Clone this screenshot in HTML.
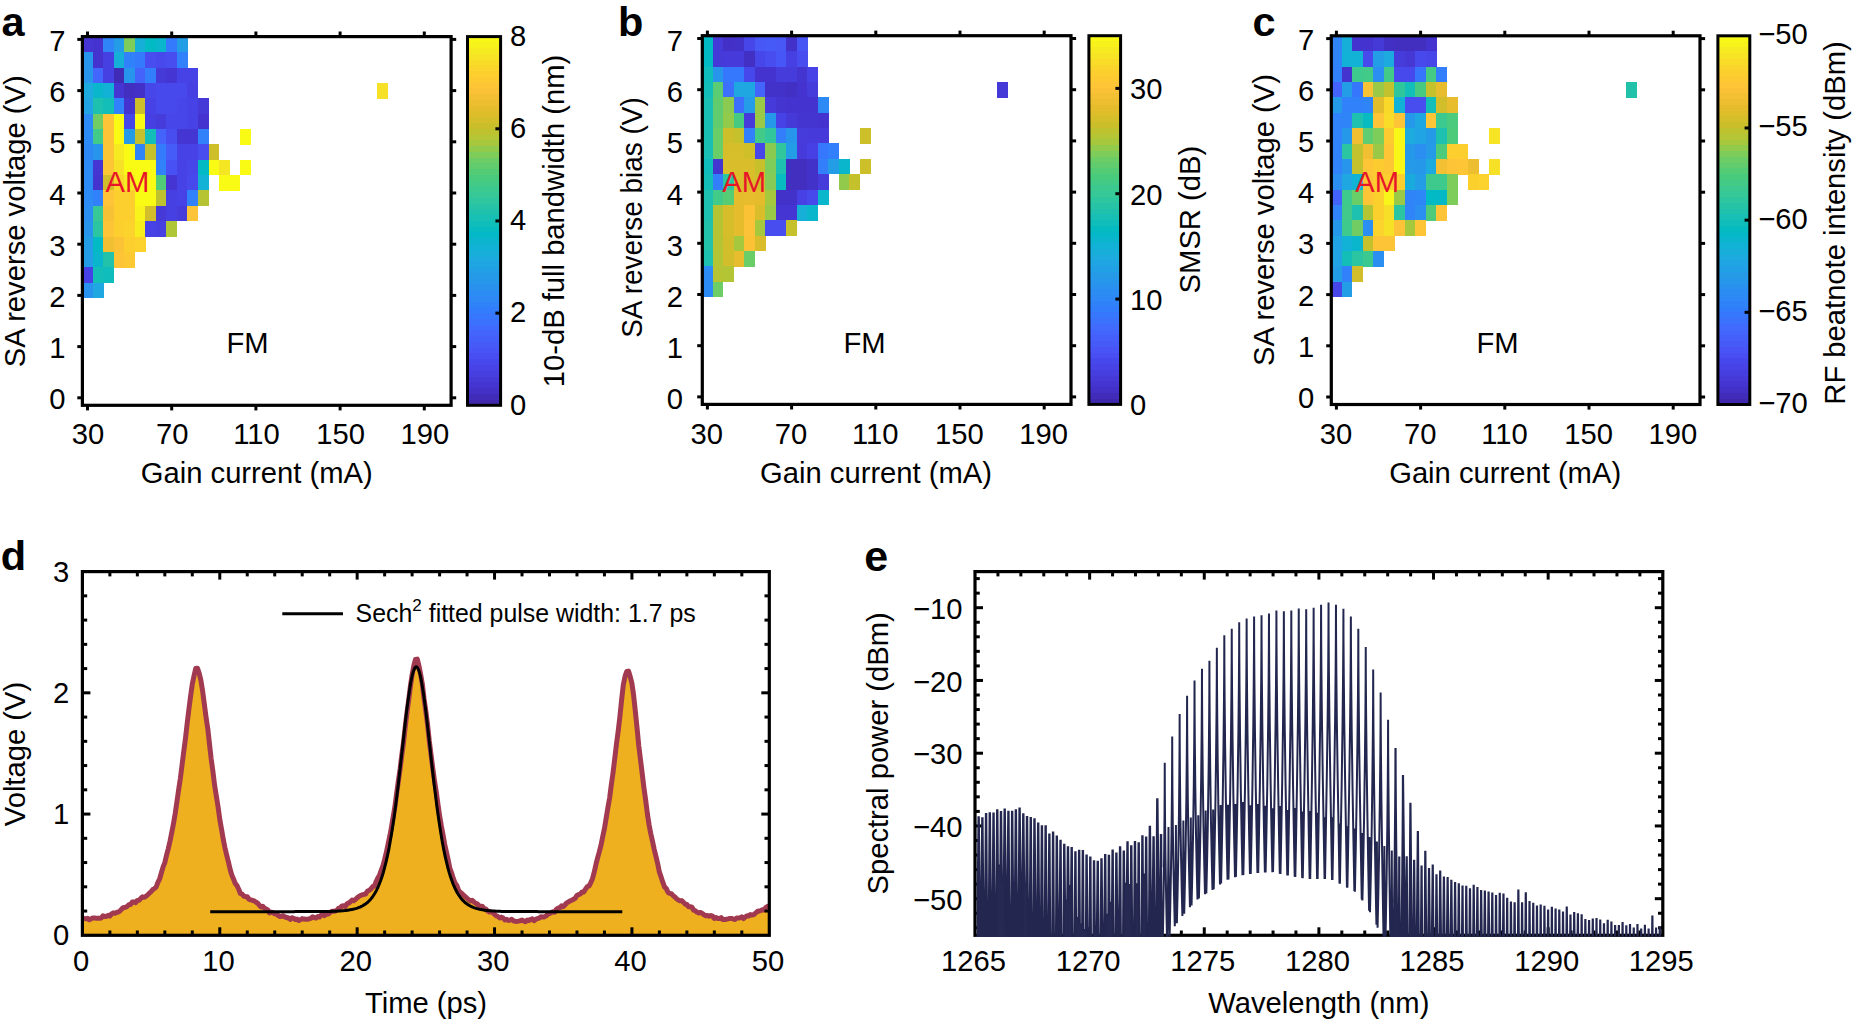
<!DOCTYPE html>
<html><head><meta charset="utf-8"><title>Figure</title>
<style>html,body{margin:0;padding:0;background:#fff}svg{display:block}text{font-family:"Liberation Sans", Arial, Helvetica, sans-serif}</style></head>
<body><svg width="1859" height="1027" viewBox="0 0 1859 1027">
<rect width="1859" height="1027" fill="#fff"/>
<g shape-rendering="crispEdges">
<rect x="82.40" y="36.84" width="10.66" height="15.66" fill="#4536d3"/>
<rect x="92.76" y="36.84" width="10.83" height="15.66" fill="#4433ce"/>
<rect x="103.29" y="36.84" width="10.83" height="15.66" fill="#2f85f8"/>
<rect x="113.81" y="36.84" width="10.83" height="15.66" fill="#239ee6"/>
<rect x="124.34" y="36.84" width="10.83" height="15.66" fill="#7ecc59"/>
<rect x="134.86" y="36.84" width="10.83" height="15.66" fill="#15afd8"/>
<rect x="145.39" y="36.84" width="10.83" height="15.66" fill="#01bac4"/>
<rect x="155.91" y="36.84" width="10.83" height="15.66" fill="#09b6cc"/>
<rect x="166.44" y="36.84" width="10.83" height="15.66" fill="#337afd"/>
<rect x="176.96" y="36.84" width="10.83" height="15.66" fill="#239ee6"/>
<rect x="82.40" y="52.20" width="10.66" height="15.66" fill="#2895ed"/>
<rect x="92.76" y="52.20" width="10.83" height="15.66" fill="#4433ce"/>
<rect x="103.29" y="52.20" width="10.83" height="15.66" fill="#463fe1"/>
<rect x="113.81" y="52.20" width="10.83" height="15.66" fill="#15afd8"/>
<rect x="124.34" y="52.20" width="10.83" height="15.66" fill="#3081fa"/>
<rect x="134.86" y="52.20" width="10.83" height="15.66" fill="#337afd"/>
<rect x="145.39" y="52.20" width="10.83" height="15.66" fill="#484df0"/>
<rect x="155.91" y="52.20" width="10.83" height="15.66" fill="#4749ed"/>
<rect x="166.44" y="52.20" width="10.83" height="15.66" fill="#484df0"/>
<rect x="176.96" y="52.20" width="10.83" height="15.66" fill="#3081fa"/>
<rect x="82.40" y="67.56" width="10.66" height="15.66" fill="#2895ed"/>
<rect x="92.76" y="67.56" width="10.83" height="15.66" fill="#4367fd"/>
<rect x="103.29" y="67.56" width="10.83" height="15.66" fill="#463fe1"/>
<rect x="113.81" y="67.56" width="10.83" height="15.66" fill="#402bb7"/>
<rect x="124.34" y="67.56" width="10.83" height="15.66" fill="#2895ed"/>
<rect x="134.86" y="67.56" width="10.83" height="15.66" fill="#4463fb"/>
<rect x="145.39" y="67.56" width="10.83" height="15.66" fill="#327efb"/>
<rect x="155.91" y="67.56" width="10.83" height="15.66" fill="#4539d8"/>
<rect x="166.44" y="67.56" width="10.83" height="15.66" fill="#4536d3"/>
<rect x="176.96" y="67.56" width="10.83" height="15.66" fill="#4742e6"/>
<rect x="187.49" y="67.56" width="10.83" height="15.66" fill="#4742e6"/>
<rect x="82.40" y="82.92" width="10.66" height="15.66" fill="#1caadf"/>
<rect x="92.76" y="82.92" width="10.83" height="15.66" fill="#09b6cc"/>
<rect x="103.29" y="82.92" width="10.83" height="15.66" fill="#11b2d5"/>
<rect x="113.81" y="82.92" width="10.83" height="15.66" fill="#4536d3"/>
<rect x="124.34" y="82.92" width="10.83" height="15.66" fill="#422ebf"/>
<rect x="134.86" y="82.92" width="10.83" height="15.66" fill="#4330c6"/>
<rect x="145.39" y="82.92" width="10.83" height="15.66" fill="#4746e9"/>
<rect x="155.91" y="82.92" width="10.83" height="15.66" fill="#4749ed"/>
<rect x="166.44" y="82.92" width="10.83" height="15.66" fill="#4749ed"/>
<rect x="176.96" y="82.92" width="10.83" height="15.66" fill="#4749ed"/>
<rect x="187.49" y="82.92" width="10.83" height="15.66" fill="#463fe1"/>
<rect x="82.40" y="98.28" width="10.66" height="15.66" fill="#20a4e3"/>
<rect x="92.76" y="98.28" width="10.83" height="15.66" fill="#1ec1af"/>
<rect x="103.29" y="98.28" width="10.83" height="15.66" fill="#14beb8"/>
<rect x="113.81" y="98.28" width="10.83" height="15.66" fill="#3081fa"/>
<rect x="124.34" y="98.28" width="10.83" height="15.66" fill="#4433ce"/>
<rect x="134.86" y="98.28" width="10.83" height="15.66" fill="#ccbf29"/>
<rect x="145.39" y="98.28" width="10.83" height="15.66" fill="#4742e6"/>
<rect x="155.91" y="98.28" width="10.83" height="15.66" fill="#4749ed"/>
<rect x="166.44" y="98.28" width="10.83" height="15.66" fill="#4749ed"/>
<rect x="176.96" y="98.28" width="10.83" height="15.66" fill="#4746e9"/>
<rect x="187.49" y="98.28" width="10.83" height="15.66" fill="#4742e6"/>
<rect x="198.01" y="98.28" width="10.83" height="15.66" fill="#4539d8"/>
<rect x="82.40" y="113.64" width="10.66" height="15.66" fill="#2c8bf4"/>
<rect x="92.76" y="113.64" width="10.83" height="15.66" fill="#71cd63"/>
<rect x="103.29" y="113.64" width="10.83" height="15.66" fill="#fec437"/>
<rect x="113.81" y="113.64" width="10.83" height="15.66" fill="#f9fb15"/>
<rect x="124.34" y="113.64" width="10.83" height="15.66" fill="#4746e9"/>
<rect x="134.86" y="113.64" width="10.83" height="15.66" fill="#f9fb15"/>
<rect x="145.39" y="113.64" width="10.83" height="15.66" fill="#463fe1"/>
<rect x="155.91" y="113.64" width="10.83" height="15.66" fill="#463cdc"/>
<rect x="166.44" y="113.64" width="10.83" height="15.66" fill="#4746e9"/>
<rect x="176.96" y="113.64" width="10.83" height="15.66" fill="#4746e9"/>
<rect x="187.49" y="113.64" width="10.83" height="15.66" fill="#4742e6"/>
<rect x="198.01" y="113.64" width="10.83" height="15.66" fill="#4433ce"/>
<rect x="82.40" y="129.00" width="10.66" height="15.66" fill="#2c8bf4"/>
<rect x="92.76" y="129.00" width="10.83" height="15.66" fill="#42ca88"/>
<rect x="103.29" y="129.00" width="10.83" height="15.66" fill="#fec437"/>
<rect x="113.81" y="129.00" width="10.83" height="15.66" fill="#f9fb15"/>
<rect x="124.34" y="129.00" width="10.83" height="15.66" fill="#259be8"/>
<rect x="134.86" y="129.00" width="10.83" height="15.66" fill="#c5c12c"/>
<rect x="145.39" y="129.00" width="10.83" height="15.66" fill="#14beb8"/>
<rect x="155.91" y="129.00" width="10.83" height="15.66" fill="#4463fb"/>
<rect x="166.44" y="129.00" width="10.83" height="15.66" fill="#484df0"/>
<rect x="176.96" y="129.00" width="10.83" height="15.66" fill="#4536d3"/>
<rect x="187.49" y="129.00" width="10.83" height="15.66" fill="#4536d3"/>
<rect x="198.01" y="129.00" width="10.83" height="15.66" fill="#3081fa"/>
<rect x="240.11" y="129.00" width="10.83" height="15.66" fill="#f9fb15"/>
<rect x="82.40" y="144.36" width="10.66" height="15.66" fill="#2d88f6"/>
<rect x="92.76" y="144.36" width="10.83" height="15.66" fill="#2895ed"/>
<rect x="103.29" y="144.36" width="10.83" height="15.66" fill="#fdc635"/>
<rect x="113.81" y="144.36" width="10.83" height="15.66" fill="#f6ea21"/>
<rect x="124.34" y="144.36" width="10.83" height="15.66" fill="#f9fb15"/>
<rect x="134.86" y="144.36" width="10.83" height="15.66" fill="#2f85f8"/>
<rect x="145.39" y="144.36" width="10.83" height="15.66" fill="#c5c12c"/>
<rect x="155.91" y="144.36" width="10.83" height="15.66" fill="#337afd"/>
<rect x="166.44" y="144.36" width="10.83" height="15.66" fill="#465cf8"/>
<rect x="176.96" y="144.36" width="10.83" height="15.66" fill="#4742e6"/>
<rect x="187.49" y="144.36" width="10.83" height="15.66" fill="#4742e6"/>
<rect x="198.01" y="144.36" width="10.83" height="15.66" fill="#484df0"/>
<rect x="208.54" y="144.36" width="10.83" height="15.66" fill="#ccbf29"/>
<rect x="82.40" y="159.72" width="10.66" height="15.66" fill="#2c8bf4"/>
<rect x="92.76" y="159.72" width="10.83" height="15.66" fill="#4536d3"/>
<rect x="103.29" y="159.72" width="10.83" height="15.66" fill="#fdc635"/>
<rect x="113.81" y="159.72" width="10.83" height="15.66" fill="#f6e126"/>
<rect x="124.34" y="159.72" width="10.83" height="15.66" fill="#f9fb15"/>
<rect x="134.86" y="159.72" width="10.83" height="15.66" fill="#f9fb15"/>
<rect x="145.39" y="159.72" width="10.83" height="15.66" fill="#f9fb15"/>
<rect x="155.91" y="159.72" width="10.83" height="15.66" fill="#3081fa"/>
<rect x="166.44" y="159.72" width="10.83" height="15.66" fill="#4851f3"/>
<rect x="176.96" y="159.72" width="10.83" height="15.66" fill="#4742e6"/>
<rect x="187.49" y="159.72" width="10.83" height="15.66" fill="#4746e9"/>
<rect x="198.01" y="159.72" width="10.83" height="15.66" fill="#01bac4"/>
<rect x="208.54" y="159.72" width="10.83" height="15.66" fill="#f9fb15"/>
<rect x="219.06" y="159.72" width="10.83" height="15.66" fill="#f5e624"/>
<rect x="240.11" y="159.72" width="10.83" height="15.66" fill="#f9fb15"/>
<rect x="82.40" y="175.08" width="10.66" height="15.66" fill="#2c8bf4"/>
<rect x="92.76" y="175.08" width="10.83" height="15.66" fill="#4433ce"/>
<rect x="103.29" y="175.08" width="10.83" height="15.66" fill="#d2be2a"/>
<rect x="113.81" y="175.08" width="10.83" height="15.66" fill="#f9d82a"/>
<rect x="124.34" y="175.08" width="10.83" height="15.66" fill="#f6ea21"/>
<rect x="134.86" y="175.08" width="10.83" height="15.66" fill="#f9fb15"/>
<rect x="145.39" y="175.08" width="10.83" height="15.66" fill="#f9fb15"/>
<rect x="155.91" y="175.08" width="10.83" height="15.66" fill="#52cb78"/>
<rect x="166.44" y="175.08" width="10.83" height="15.66" fill="#4536d3"/>
<rect x="176.96" y="175.08" width="10.83" height="15.66" fill="#4742e6"/>
<rect x="187.49" y="175.08" width="10.83" height="15.66" fill="#4749ed"/>
<rect x="198.01" y="175.08" width="10.83" height="15.66" fill="#11b2d5"/>
<rect x="219.06" y="175.08" width="10.83" height="15.66" fill="#f9fb15"/>
<rect x="229.59" y="175.08" width="10.83" height="15.66" fill="#f9fb15"/>
<rect x="82.40" y="190.44" width="10.66" height="15.66" fill="#2c8bf4"/>
<rect x="92.76" y="190.44" width="10.83" height="15.66" fill="#3081fa"/>
<rect x="103.29" y="190.44" width="10.83" height="15.66" fill="#fec437"/>
<rect x="113.81" y="190.44" width="10.83" height="15.66" fill="#fcce2e"/>
<rect x="124.34" y="190.44" width="10.83" height="15.66" fill="#fcce2e"/>
<rect x="134.86" y="190.44" width="10.83" height="15.66" fill="#f9fb15"/>
<rect x="145.39" y="190.44" width="10.83" height="15.66" fill="#f9fb15"/>
<rect x="155.91" y="190.44" width="10.83" height="15.66" fill="#bec230"/>
<rect x="166.44" y="190.44" width="10.83" height="15.66" fill="#463fe1"/>
<rect x="176.96" y="190.44" width="10.83" height="15.66" fill="#4742e6"/>
<rect x="187.49" y="190.44" width="10.83" height="15.66" fill="#3081fa"/>
<rect x="198.01" y="190.44" width="10.83" height="15.66" fill="#b6c433"/>
<rect x="82.40" y="205.80" width="10.66" height="15.66" fill="#2b8ef1"/>
<rect x="92.76" y="205.80" width="10.83" height="15.66" fill="#36c897"/>
<rect x="103.29" y="205.80" width="10.83" height="15.66" fill="#f6c134"/>
<rect x="113.81" y="205.80" width="10.83" height="15.66" fill="#fcce2e"/>
<rect x="124.34" y="205.80" width="10.83" height="15.66" fill="#fcce2e"/>
<rect x="134.86" y="205.80" width="10.83" height="15.66" fill="#f7f31b"/>
<rect x="145.39" y="205.80" width="10.83" height="15.66" fill="#d2be2a"/>
<rect x="155.91" y="205.80" width="10.83" height="15.66" fill="#4539d8"/>
<rect x="166.44" y="205.80" width="10.83" height="15.66" fill="#463fe1"/>
<rect x="176.96" y="205.80" width="10.83" height="15.66" fill="#463cdc"/>
<rect x="187.49" y="205.80" width="10.83" height="15.66" fill="#fec437"/>
<rect x="82.40" y="221.16" width="10.66" height="15.66" fill="#2895ed"/>
<rect x="92.76" y="221.16" width="10.83" height="15.66" fill="#2cc5a1"/>
<rect x="103.29" y="221.16" width="10.83" height="15.66" fill="#fec437"/>
<rect x="113.81" y="221.16" width="10.83" height="15.66" fill="#fcce2e"/>
<rect x="124.34" y="221.16" width="10.83" height="15.66" fill="#fbd32c"/>
<rect x="134.86" y="221.16" width="10.83" height="15.66" fill="#f7ee1e"/>
<rect x="145.39" y="221.16" width="10.83" height="15.66" fill="#4742e6"/>
<rect x="155.91" y="221.16" width="10.83" height="15.66" fill="#463fe1"/>
<rect x="166.44" y="221.16" width="10.83" height="15.66" fill="#afc637"/>
<rect x="82.40" y="236.52" width="10.66" height="15.66" fill="#239ee6"/>
<rect x="92.76" y="236.52" width="10.83" height="15.66" fill="#01bac4"/>
<rect x="103.29" y="236.52" width="10.83" height="15.66" fill="#f1c032"/>
<rect x="113.81" y="236.52" width="10.83" height="15.66" fill="#fbc236"/>
<rect x="124.34" y="236.52" width="10.83" height="15.66" fill="#fcce2e"/>
<rect x="134.86" y="236.52" width="10.83" height="15.66" fill="#fbd32c"/>
<rect x="82.40" y="251.88" width="10.66" height="15.66" fill="#239ee6"/>
<rect x="92.76" y="251.88" width="10.83" height="15.66" fill="#09b6cc"/>
<rect x="103.29" y="251.88" width="10.83" height="15.66" fill="#22c2aa"/>
<rect x="113.81" y="251.88" width="10.83" height="15.66" fill="#fec437"/>
<rect x="124.34" y="251.88" width="10.83" height="15.66" fill="#fdc933"/>
<rect x="82.40" y="267.24" width="10.66" height="15.66" fill="#4742e6"/>
<rect x="92.76" y="267.24" width="10.83" height="15.66" fill="#14beb8"/>
<rect x="103.29" y="267.24" width="10.83" height="15.66" fill="#0ebdbc"/>
<rect x="82.40" y="282.60" width="10.66" height="15.66" fill="#2992ef"/>
<rect x="92.76" y="282.60" width="10.83" height="15.66" fill="#1ea7e1"/>
<rect x="376.94" y="82.92" width="10.82" height="15.66" fill="#f6e126"/>
</g>
<rect x="82.40" y="36.60" width="368.70" height="368.70" fill="none" stroke="#000" stroke-width="3.2"/>
<path d="M82.40 397.80L77.30 397.80" stroke="#000" stroke-width="3.00"/>
<path d="M451.10 397.80L456.20 397.80" stroke="#000" stroke-width="3.00"/>
<text transform="translate(65.40,409.30) scale(1.000,1)" text-anchor="end" font-size="29.2">0</text>
<path d="M82.40 346.60L77.30 346.60" stroke="#000" stroke-width="3.00"/>
<path d="M451.10 346.60L456.20 346.60" stroke="#000" stroke-width="3.00"/>
<text transform="translate(65.40,358.10) scale(1.000,1)" text-anchor="end" font-size="29.2">1</text>
<path d="M82.40 295.40L77.30 295.40" stroke="#000" stroke-width="3.00"/>
<path d="M451.10 295.40L456.20 295.40" stroke="#000" stroke-width="3.00"/>
<text transform="translate(65.40,306.90) scale(1.000,1)" text-anchor="end" font-size="29.2">2</text>
<path d="M82.40 244.20L77.30 244.20" stroke="#000" stroke-width="3.00"/>
<path d="M451.10 244.20L456.20 244.20" stroke="#000" stroke-width="3.00"/>
<text transform="translate(65.40,255.70) scale(1.000,1)" text-anchor="end" font-size="29.2">3</text>
<path d="M82.40 193.00L77.30 193.00" stroke="#000" stroke-width="3.00"/>
<path d="M451.10 193.00L456.20 193.00" stroke="#000" stroke-width="3.00"/>
<text transform="translate(65.40,204.50) scale(1.000,1)" text-anchor="end" font-size="29.2">4</text>
<path d="M82.40 141.80L77.30 141.80" stroke="#000" stroke-width="3.00"/>
<path d="M451.10 141.80L456.20 141.80" stroke="#000" stroke-width="3.00"/>
<text transform="translate(65.40,153.30) scale(1.000,1)" text-anchor="end" font-size="29.2">5</text>
<path d="M82.40 90.60L77.30 90.60" stroke="#000" stroke-width="3.00"/>
<path d="M451.10 90.60L456.20 90.60" stroke="#000" stroke-width="3.00"/>
<text transform="translate(65.40,102.10) scale(1.000,1)" text-anchor="end" font-size="29.2">6</text>
<path d="M82.40 39.40L77.30 39.40" stroke="#000" stroke-width="3.00"/>
<path d="M451.10 39.40L456.20 39.40" stroke="#000" stroke-width="3.00"/>
<text transform="translate(65.40,50.90) scale(1.000,1)" text-anchor="end" font-size="29.2">7</text>
<path d="M87.50 36.60L87.50 31.50" stroke="#000" stroke-width="3.00"/>
<path d="M87.50 405.30L87.50 410.40" stroke="#000" stroke-width="3.00"/>
<text transform="translate(88.10,443.60) scale(1.000,1)" text-anchor="middle" font-size="29.2">30</text>
<path d="M171.70 36.60L171.70 31.50" stroke="#000" stroke-width="3.00"/>
<path d="M171.70 405.30L171.70 410.40" stroke="#000" stroke-width="3.00"/>
<text transform="translate(172.30,443.60) scale(1.000,1)" text-anchor="middle" font-size="29.2">70</text>
<path d="M255.90 36.60L255.90 31.50" stroke="#000" stroke-width="3.00"/>
<path d="M255.90 405.30L255.90 410.40" stroke="#000" stroke-width="3.00"/>
<text transform="translate(256.50,443.60) scale(1.000,1)" text-anchor="middle" font-size="29.2">110</text>
<path d="M340.10 36.60L340.10 31.50" stroke="#000" stroke-width="3.00"/>
<path d="M340.10 405.30L340.10 410.40" stroke="#000" stroke-width="3.00"/>
<text transform="translate(340.70,443.60) scale(1.000,1)" text-anchor="middle" font-size="29.2">150</text>
<path d="M424.30 36.60L424.30 31.50" stroke="#000" stroke-width="3.00"/>
<path d="M424.30 405.30L424.30 410.40" stroke="#000" stroke-width="3.00"/>
<text transform="translate(424.90,443.60) scale(1.000,1)" text-anchor="middle" font-size="29.2">190</text>
<text transform="translate(256.75,482.70) scale(1.000,1)" text-anchor="middle" font-size="29.2">Gain current (mA)</text>
<text transform="translate(24.60,221.30) rotate(-90) scale(1.000,1)" text-anchor="middle" font-size="29.2">SA reverse voltage (V)</text>
<text transform="translate(1.50,36.00) scale(1.000,1)" text-anchor="start" font-size="41.5" font-weight="bold">a</text>
<text transform="translate(105.60,192.40) scale(1.000,1)" text-anchor="start" font-size="29.2" fill="#e8152a">AM</text>
<text transform="translate(226.50,353.10) scale(1.000,1)" text-anchor="start" font-size="29.2">FM</text>
<g shape-rendering="crispEdges">
<rect x="467.50" y="36.60" width="33.10" height="6.16" fill="#f8f817"/>
<rect x="467.50" y="42.36" width="33.10" height="6.16" fill="#f7f11c"/>
<rect x="467.50" y="48.12" width="33.10" height="6.16" fill="#f6eb21"/>
<rect x="467.50" y="53.88" width="33.10" height="6.16" fill="#f6e425"/>
<rect x="467.50" y="59.64" width="33.10" height="6.16" fill="#f8dc28"/>
<rect x="467.50" y="65.40" width="33.10" height="6.16" fill="#fad52b"/>
<rect x="467.50" y="71.17" width="33.10" height="6.16" fill="#fcce2e"/>
<rect x="467.50" y="76.93" width="33.10" height="6.16" fill="#fdca32"/>
<rect x="467.50" y="82.69" width="33.10" height="6.16" fill="#fec636"/>
<rect x="467.50" y="88.45" width="33.10" height="6.16" fill="#fbc237"/>
<rect x="467.50" y="94.21" width="33.10" height="6.16" fill="#f4c033"/>
<rect x="467.50" y="99.97" width="33.10" height="6.16" fill="#edbe30"/>
<rect x="467.50" y="105.73" width="33.10" height="6.16" fill="#e5bd2c"/>
<rect x="467.50" y="111.49" width="33.10" height="6.16" fill="#ddbd2a"/>
<rect x="467.50" y="117.25" width="33.10" height="6.16" fill="#d4be2a"/>
<rect x="467.50" y="123.01" width="33.10" height="6.16" fill="#cabf2a"/>
<rect x="467.50" y="128.78" width="33.10" height="6.16" fill="#bfc22f"/>
<rect x="467.50" y="134.54" width="33.10" height="6.16" fill="#b4c535"/>
<rect x="467.50" y="140.30" width="33.10" height="6.16" fill="#a7c73c"/>
<rect x="467.50" y="146.06" width="33.10" height="6.16" fill="#92ca4b"/>
<rect x="467.50" y="151.82" width="33.10" height="6.16" fill="#7ecc5a"/>
<rect x="467.50" y="157.58" width="33.10" height="6.16" fill="#6ccd66"/>
<rect x="467.50" y="163.34" width="33.10" height="6.16" fill="#60cc6e"/>
<rect x="467.50" y="169.10" width="33.10" height="6.16" fill="#54cc76"/>
<rect x="467.50" y="174.86" width="33.10" height="6.16" fill="#49cb7e"/>
<rect x="467.50" y="180.62" width="33.10" height="6.16" fill="#43ca87"/>
<rect x="467.50" y="186.38" width="33.10" height="6.16" fill="#3cc98f"/>
<rect x="467.50" y="192.15" width="33.10" height="6.16" fill="#36c897"/>
<rect x="467.50" y="197.91" width="33.10" height="6.16" fill="#2ec69e"/>
<rect x="467.50" y="203.67" width="33.10" height="6.16" fill="#27c3a6"/>
<rect x="467.50" y="209.43" width="33.10" height="6.16" fill="#1fc1ad"/>
<rect x="467.50" y="215.19" width="33.10" height="6.16" fill="#18bfb4"/>
<rect x="467.50" y="220.95" width="33.10" height="6.16" fill="#0fbdbb"/>
<rect x="467.50" y="226.71" width="33.10" height="6.16" fill="#05bbc1"/>
<rect x="467.50" y="232.47" width="33.10" height="6.16" fill="#05b8c8"/>
<rect x="467.50" y="238.23" width="33.10" height="6.16" fill="#0bb5ce"/>
<rect x="467.50" y="243.99" width="33.10" height="6.16" fill="#11b2d5"/>
<rect x="467.50" y="249.75" width="33.10" height="6.16" fill="#17aeda"/>
<rect x="467.50" y="255.52" width="33.10" height="6.16" fill="#1caadf"/>
<rect x="467.50" y="261.28" width="33.10" height="6.16" fill="#1fa5e2"/>
<rect x="467.50" y="267.04" width="33.10" height="6.16" fill="#22a0e5"/>
<rect x="467.50" y="272.80" width="33.10" height="6.16" fill="#259be8"/>
<rect x="467.50" y="278.56" width="33.10" height="6.16" fill="#2797eb"/>
<rect x="467.50" y="284.32" width="33.10" height="6.16" fill="#2992ef"/>
<rect x="467.50" y="290.08" width="33.10" height="6.16" fill="#2b8df3"/>
<rect x="467.50" y="295.84" width="33.10" height="6.16" fill="#2e88f6"/>
<rect x="467.50" y="301.60" width="33.10" height="6.16" fill="#3082f9"/>
<rect x="467.50" y="307.36" width="33.10" height="6.16" fill="#327dfc"/>
<rect x="467.50" y="313.12" width="33.10" height="6.16" fill="#3677fd"/>
<rect x="467.50" y="318.89" width="33.10" height="6.16" fill="#3a71fd"/>
<rect x="467.50" y="324.65" width="33.10" height="6.16" fill="#406bfd"/>
<rect x="467.50" y="330.41" width="33.10" height="6.16" fill="#4365fc"/>
<rect x="467.50" y="336.17" width="33.10" height="6.16" fill="#4560fa"/>
<rect x="467.50" y="341.93" width="33.10" height="6.16" fill="#465af7"/>
<rect x="467.50" y="347.69" width="33.10" height="6.16" fill="#4854f5"/>
<rect x="467.50" y="353.45" width="33.10" height="6.16" fill="#484ef1"/>
<rect x="467.50" y="359.21" width="33.10" height="6.16" fill="#4748ec"/>
<rect x="467.50" y="364.97" width="33.10" height="6.16" fill="#4743e7"/>
<rect x="467.50" y="370.73" width="33.10" height="6.16" fill="#463edf"/>
<rect x="467.50" y="376.50" width="33.10" height="6.16" fill="#4539d8"/>
<rect x="467.50" y="382.26" width="33.10" height="6.16" fill="#4434d0"/>
<rect x="467.50" y="388.02" width="33.10" height="6.16" fill="#4330c6"/>
<rect x="467.50" y="393.78" width="33.10" height="6.16" fill="#412cba"/>
<rect x="467.50" y="399.54" width="33.10" height="6.16" fill="#3f28ae"/>
</g>
<rect x="467.50" y="36.60" width="33.10" height="368.70" fill="none" stroke="#000" stroke-width="3.0"/>
<text transform="translate(510.00,414.50) scale(1.000,1)" text-anchor="start" font-size="29.2">0</text>
<path d="M500.60 313.12L495.40 313.12" stroke="#000" stroke-width="3.00"/>
<text transform="translate(510.00,322.32) scale(1.000,1)" text-anchor="start" font-size="29.2">2</text>
<path d="M500.60 220.95L495.40 220.95" stroke="#000" stroke-width="3.00"/>
<text transform="translate(510.00,230.15) scale(1.000,1)" text-anchor="start" font-size="29.2">4</text>
<path d="M500.60 128.78L495.40 128.78" stroke="#000" stroke-width="3.00"/>
<text transform="translate(510.00,137.98) scale(1.000,1)" text-anchor="start" font-size="29.2">6</text>
<text transform="translate(510.00,45.80) scale(1.000,1)" text-anchor="start" font-size="29.2">8</text>
<text transform="translate(563.50,221.00) rotate(-90) scale(1.000,1)" text-anchor="middle" font-size="29.2">10-dB full bandwidth (nm)</text>
<g shape-rendering="crispEdges">
<rect x="702.30" y="35.94" width="10.66" height="15.66" fill="#01bac4"/>
<rect x="712.66" y="35.94" width="10.82" height="15.66" fill="#4539d8"/>
<rect x="723.19" y="35.94" width="10.82" height="15.66" fill="#4330c6"/>
<rect x="733.71" y="35.94" width="10.82" height="15.66" fill="#4332ca"/>
<rect x="744.24" y="35.94" width="10.82" height="15.66" fill="#4746e9"/>
<rect x="754.76" y="35.94" width="10.82" height="15.66" fill="#4758f7"/>
<rect x="765.29" y="35.94" width="10.82" height="15.66" fill="#465af7"/>
<rect x="775.81" y="35.94" width="10.82" height="15.66" fill="#4758f7"/>
<rect x="786.34" y="35.94" width="10.82" height="15.66" fill="#4332ca"/>
<rect x="796.86" y="35.94" width="10.82" height="15.66" fill="#4755f5"/>
<rect x="702.30" y="51.30" width="10.66" height="15.66" fill="#01bac4"/>
<rect x="712.66" y="51.30" width="10.82" height="15.66" fill="#4539d8"/>
<rect x="723.19" y="51.30" width="10.82" height="15.66" fill="#463ada"/>
<rect x="733.71" y="51.30" width="10.82" height="15.66" fill="#463ada"/>
<rect x="744.24" y="51.30" width="10.82" height="15.66" fill="#422fc3"/>
<rect x="754.76" y="51.30" width="10.82" height="15.66" fill="#4746e9"/>
<rect x="765.29" y="51.30" width="10.82" height="15.66" fill="#484df0"/>
<rect x="775.81" y="51.30" width="10.82" height="15.66" fill="#4756f6"/>
<rect x="786.34" y="51.30" width="10.82" height="15.66" fill="#463fe1"/>
<rect x="796.86" y="51.30" width="10.82" height="15.66" fill="#484df0"/>
<rect x="702.30" y="66.66" width="10.66" height="15.66" fill="#0ebdbc"/>
<rect x="712.66" y="66.66" width="10.82" height="15.66" fill="#2895ed"/>
<rect x="723.19" y="66.66" width="10.82" height="15.66" fill="#3578fd"/>
<rect x="733.71" y="66.66" width="10.82" height="15.66" fill="#3578fd"/>
<rect x="744.24" y="66.66" width="10.82" height="15.66" fill="#4748eb"/>
<rect x="754.76" y="66.66" width="10.82" height="15.66" fill="#4433ce"/>
<rect x="765.29" y="66.66" width="10.82" height="15.66" fill="#4433ce"/>
<rect x="775.81" y="66.66" width="10.82" height="15.66" fill="#463cdc"/>
<rect x="786.34" y="66.66" width="10.82" height="15.66" fill="#463cdc"/>
<rect x="796.86" y="66.66" width="10.82" height="15.66" fill="#4434d0"/>
<rect x="807.39" y="66.66" width="10.82" height="15.66" fill="#4742e6"/>
<rect x="702.30" y="82.02" width="10.66" height="15.66" fill="#14beb8"/>
<rect x="712.66" y="82.02" width="10.82" height="15.66" fill="#5acc73"/>
<rect x="723.19" y="82.02" width="10.82" height="15.66" fill="#3d6ffd"/>
<rect x="733.71" y="82.02" width="10.82" height="15.66" fill="#1ea7e1"/>
<rect x="744.24" y="82.02" width="10.82" height="15.66" fill="#1ea7e1"/>
<rect x="754.76" y="82.02" width="10.82" height="15.66" fill="#4365fc"/>
<rect x="765.29" y="82.02" width="10.82" height="15.66" fill="#4332ca"/>
<rect x="775.81" y="82.02" width="10.82" height="15.66" fill="#4332ca"/>
<rect x="786.34" y="82.02" width="10.82" height="15.66" fill="#422fc3"/>
<rect x="796.86" y="82.02" width="10.82" height="15.66" fill="#4433ce"/>
<rect x="807.39" y="82.02" width="10.82" height="15.66" fill="#463cdc"/>
<rect x="702.30" y="97.38" width="10.66" height="15.66" fill="#19bfb3"/>
<rect x="712.66" y="97.38" width="10.82" height="15.66" fill="#61cc6d"/>
<rect x="723.19" y="97.38" width="10.82" height="15.66" fill="#8bca50"/>
<rect x="733.71" y="97.38" width="10.82" height="15.66" fill="#3d6ffd"/>
<rect x="744.24" y="97.38" width="10.82" height="15.66" fill="#249ce7"/>
<rect x="754.76" y="97.38" width="10.82" height="15.66" fill="#99c946"/>
<rect x="765.29" y="97.38" width="10.82" height="15.66" fill="#463ada"/>
<rect x="775.81" y="97.38" width="10.82" height="15.66" fill="#4434d0"/>
<rect x="786.34" y="97.38" width="10.82" height="15.66" fill="#4433ce"/>
<rect x="796.86" y="97.38" width="10.82" height="15.66" fill="#4433ce"/>
<rect x="807.39" y="97.38" width="10.82" height="15.66" fill="#4433ce"/>
<rect x="817.91" y="97.38" width="10.82" height="15.66" fill="#2d8af5"/>
<rect x="702.30" y="112.74" width="10.66" height="15.66" fill="#19bfb3"/>
<rect x="712.66" y="112.74" width="10.82" height="15.66" fill="#61cc6d"/>
<rect x="723.19" y="112.74" width="10.82" height="15.66" fill="#92ca4b"/>
<rect x="733.71" y="112.74" width="10.82" height="15.66" fill="#46ca82"/>
<rect x="744.24" y="112.74" width="10.82" height="15.66" fill="#463ada"/>
<rect x="754.76" y="112.74" width="10.82" height="15.66" fill="#99c946"/>
<rect x="765.29" y="112.74" width="10.82" height="15.66" fill="#2698ea"/>
<rect x="775.81" y="112.74" width="10.82" height="15.66" fill="#4742e6"/>
<rect x="786.34" y="112.74" width="10.82" height="15.66" fill="#4539d8"/>
<rect x="796.86" y="112.74" width="10.82" height="15.66" fill="#4434d0"/>
<rect x="807.39" y="112.74" width="10.82" height="15.66" fill="#4434d0"/>
<rect x="817.91" y="112.74" width="10.82" height="15.66" fill="#4433ce"/>
<rect x="702.30" y="128.10" width="10.66" height="15.66" fill="#19bfb3"/>
<rect x="712.66" y="128.10" width="10.82" height="15.66" fill="#69cd68"/>
<rect x="723.19" y="128.10" width="10.82" height="15.66" fill="#ccbf29"/>
<rect x="733.71" y="128.10" width="10.82" height="15.66" fill="#c5c12c"/>
<rect x="744.24" y="128.10" width="10.82" height="15.66" fill="#317ffa"/>
<rect x="754.76" y="128.10" width="10.82" height="15.66" fill="#42ca88"/>
<rect x="765.29" y="128.10" width="10.82" height="15.66" fill="#31c69c"/>
<rect x="775.81" y="128.10" width="10.82" height="15.66" fill="#327efb"/>
<rect x="786.34" y="128.10" width="10.82" height="15.66" fill="#2895ed"/>
<rect x="796.86" y="128.10" width="10.82" height="15.66" fill="#463cdc"/>
<rect x="807.39" y="128.10" width="10.82" height="15.66" fill="#463ada"/>
<rect x="817.91" y="128.10" width="10.82" height="15.66" fill="#463ada"/>
<rect x="860.01" y="128.10" width="10.82" height="15.66" fill="#ccbf29"/>
<rect x="702.30" y="143.46" width="10.66" height="15.66" fill="#19bfb3"/>
<rect x="712.66" y="143.46" width="10.82" height="15.66" fill="#69cd68"/>
<rect x="723.19" y="143.46" width="10.82" height="15.66" fill="#d5be2a"/>
<rect x="733.71" y="143.46" width="10.82" height="15.66" fill="#d5be2a"/>
<rect x="744.24" y="143.46" width="10.82" height="15.66" fill="#cfbf29"/>
<rect x="754.76" y="143.46" width="10.82" height="15.66" fill="#4746e9"/>
<rect x="765.29" y="143.46" width="10.82" height="15.66" fill="#8bca50"/>
<rect x="775.81" y="143.46" width="10.82" height="15.66" fill="#31c69c"/>
<rect x="786.34" y="143.46" width="10.82" height="15.66" fill="#239ee6"/>
<rect x="796.86" y="143.46" width="10.82" height="15.66" fill="#463ada"/>
<rect x="807.39" y="143.46" width="10.82" height="15.66" fill="#4740e4"/>
<rect x="817.91" y="143.46" width="10.82" height="15.66" fill="#3578fd"/>
<rect x="828.44" y="143.46" width="10.82" height="15.66" fill="#317ffa"/>
<rect x="702.30" y="158.82" width="10.66" height="15.66" fill="#0ebdbc"/>
<rect x="712.66" y="158.82" width="10.82" height="15.66" fill="#4434d0"/>
<rect x="723.19" y="158.82" width="10.82" height="15.66" fill="#dabd2a"/>
<rect x="733.71" y="158.82" width="10.82" height="15.66" fill="#dabd2a"/>
<rect x="744.24" y="158.82" width="10.82" height="15.66" fill="#dabd2a"/>
<rect x="754.76" y="158.82" width="10.82" height="15.66" fill="#c8c02b"/>
<rect x="765.29" y="158.82" width="10.82" height="15.66" fill="#7ecc59"/>
<rect x="775.81" y="158.82" width="10.82" height="15.66" fill="#1ec1af"/>
<rect x="786.34" y="158.82" width="10.82" height="15.66" fill="#422ebf"/>
<rect x="796.86" y="158.82" width="10.82" height="15.66" fill="#422ebf"/>
<rect x="807.39" y="158.82" width="10.82" height="15.66" fill="#4332ca"/>
<rect x="817.91" y="158.82" width="10.82" height="15.66" fill="#327efb"/>
<rect x="828.44" y="158.82" width="10.82" height="15.66" fill="#239ee6"/>
<rect x="838.96" y="158.82" width="10.82" height="15.66" fill="#09b6cc"/>
<rect x="860.01" y="158.82" width="10.82" height="15.66" fill="#ccbf29"/>
<rect x="702.30" y="174.18" width="10.66" height="15.66" fill="#14beb8"/>
<rect x="712.66" y="174.18" width="10.82" height="15.66" fill="#327efb"/>
<rect x="723.19" y="174.18" width="10.82" height="15.66" fill="#2cc5a1"/>
<rect x="733.71" y="174.18" width="10.82" height="15.66" fill="#dabd2a"/>
<rect x="744.24" y="174.18" width="10.82" height="15.66" fill="#dabd2a"/>
<rect x="754.76" y="174.18" width="10.82" height="15.66" fill="#cfbf29"/>
<rect x="765.29" y="174.18" width="10.82" height="15.66" fill="#85cb55"/>
<rect x="775.81" y="174.18" width="10.82" height="15.66" fill="#07bbc0"/>
<rect x="786.34" y="174.18" width="10.82" height="15.66" fill="#422ebf"/>
<rect x="796.86" y="174.18" width="10.82" height="15.66" fill="#422ebf"/>
<rect x="807.39" y="174.18" width="10.82" height="15.66" fill="#4332ca"/>
<rect x="817.91" y="174.18" width="10.82" height="15.66" fill="#463cdc"/>
<rect x="838.96" y="174.18" width="10.82" height="15.66" fill="#92ca4b"/>
<rect x="849.49" y="174.18" width="10.82" height="15.66" fill="#c5c12c"/>
<rect x="702.30" y="189.54" width="10.66" height="15.66" fill="#1ec1af"/>
<rect x="712.66" y="189.54" width="10.82" height="15.66" fill="#42ca88"/>
<rect x="723.19" y="189.54" width="10.82" height="15.66" fill="#56cc75"/>
<rect x="733.71" y="189.54" width="10.82" height="15.66" fill="#e5bd2c"/>
<rect x="744.24" y="189.54" width="10.82" height="15.66" fill="#e8bd2d"/>
<rect x="754.76" y="189.54" width="10.82" height="15.66" fill="#e5bd2c"/>
<rect x="765.29" y="189.54" width="10.82" height="15.66" fill="#a6c83d"/>
<rect x="775.81" y="189.54" width="10.82" height="15.66" fill="#4332ca"/>
<rect x="786.34" y="189.54" width="10.82" height="15.66" fill="#4332ca"/>
<rect x="796.86" y="189.54" width="10.82" height="15.66" fill="#4740e4"/>
<rect x="807.39" y="189.54" width="10.82" height="15.66" fill="#4749ed"/>
<rect x="817.91" y="189.54" width="10.82" height="15.66" fill="#09b6cc"/>
<rect x="702.30" y="204.90" width="10.66" height="15.66" fill="#1ec1af"/>
<rect x="712.66" y="204.90" width="10.82" height="15.66" fill="#b6c433"/>
<rect x="723.19" y="204.90" width="10.82" height="15.66" fill="#d5be2a"/>
<rect x="733.71" y="204.90" width="10.82" height="15.66" fill="#e5bd2c"/>
<rect x="744.24" y="204.90" width="10.82" height="15.66" fill="#fbc236"/>
<rect x="754.76" y="204.90" width="10.82" height="15.66" fill="#dabd2a"/>
<rect x="765.29" y="204.90" width="10.82" height="15.66" fill="#99c946"/>
<rect x="775.81" y="204.90" width="10.82" height="15.66" fill="#4536d3"/>
<rect x="786.34" y="204.90" width="10.82" height="15.66" fill="#4536d3"/>
<rect x="796.86" y="204.90" width="10.82" height="15.66" fill="#15afd8"/>
<rect x="807.39" y="204.90" width="10.82" height="15.66" fill="#09b6cc"/>
<rect x="702.30" y="220.26" width="10.66" height="15.66" fill="#22c2aa"/>
<rect x="712.66" y="220.26" width="10.82" height="15.66" fill="#b6c433"/>
<rect x="723.19" y="220.26" width="10.82" height="15.66" fill="#d5be2a"/>
<rect x="733.71" y="220.26" width="10.82" height="15.66" fill="#e5bd2c"/>
<rect x="744.24" y="220.26" width="10.82" height="15.66" fill="#fdc338"/>
<rect x="754.76" y="220.26" width="10.82" height="15.66" fill="#a6c83d"/>
<rect x="765.29" y="220.26" width="10.82" height="15.66" fill="#484df0"/>
<rect x="775.81" y="220.26" width="10.82" height="15.66" fill="#484df0"/>
<rect x="786.34" y="220.26" width="10.82" height="15.66" fill="#c5c12c"/>
<rect x="702.30" y="235.62" width="10.66" height="15.66" fill="#22c2aa"/>
<rect x="712.66" y="235.62" width="10.82" height="15.66" fill="#b6c433"/>
<rect x="723.19" y="235.62" width="10.82" height="15.66" fill="#d2be2a"/>
<rect x="733.71" y="235.62" width="10.82" height="15.66" fill="#a6c83d"/>
<rect x="744.24" y="235.62" width="10.82" height="15.66" fill="#fbc236"/>
<rect x="754.76" y="235.62" width="10.82" height="15.66" fill="#dabd2a"/>
<rect x="702.30" y="250.98" width="10.66" height="15.66" fill="#1ec1af"/>
<rect x="712.66" y="250.98" width="10.82" height="15.66" fill="#b3c535"/>
<rect x="723.19" y="250.98" width="10.82" height="15.66" fill="#d2be2a"/>
<rect x="733.71" y="250.98" width="10.82" height="15.66" fill="#e8bd2d"/>
<rect x="744.24" y="250.98" width="10.82" height="15.66" fill="#69cd68"/>
<rect x="702.30" y="266.34" width="10.66" height="15.66" fill="#2c8bf4"/>
<rect x="712.66" y="266.34" width="10.82" height="15.66" fill="#b6c433"/>
<rect x="723.19" y="266.34" width="10.82" height="15.66" fill="#b3c535"/>
<rect x="702.30" y="281.70" width="10.66" height="15.66" fill="#2c8bf4"/>
<rect x="712.66" y="281.70" width="10.82" height="15.66" fill="#6dcd66"/>
<rect x="996.84" y="82.02" width="10.82" height="15.66" fill="#4539d8"/>
</g>
<rect x="702.30" y="35.70" width="368.70" height="368.70" fill="none" stroke="#000" stroke-width="3.2"/>
<path d="M702.30 396.90L697.20 396.90" stroke="#000" stroke-width="3.00"/>
<path d="M1071.00 396.90L1076.10 396.90" stroke="#000" stroke-width="3.00"/>
<text transform="translate(683.00,409.30) scale(1.000,1)" text-anchor="end" font-size="29.2">0</text>
<path d="M702.30 345.70L697.20 345.70" stroke="#000" stroke-width="3.00"/>
<path d="M1071.00 345.70L1076.10 345.70" stroke="#000" stroke-width="3.00"/>
<text transform="translate(683.00,358.10) scale(1.000,1)" text-anchor="end" font-size="29.2">1</text>
<path d="M702.30 294.50L697.20 294.50" stroke="#000" stroke-width="3.00"/>
<path d="M1071.00 294.50L1076.10 294.50" stroke="#000" stroke-width="3.00"/>
<text transform="translate(683.00,306.90) scale(1.000,1)" text-anchor="end" font-size="29.2">2</text>
<path d="M702.30 243.30L697.20 243.30" stroke="#000" stroke-width="3.00"/>
<path d="M1071.00 243.30L1076.10 243.30" stroke="#000" stroke-width="3.00"/>
<text transform="translate(683.00,255.70) scale(1.000,1)" text-anchor="end" font-size="29.2">3</text>
<path d="M702.30 192.10L697.20 192.10" stroke="#000" stroke-width="3.00"/>
<path d="M1071.00 192.10L1076.10 192.10" stroke="#000" stroke-width="3.00"/>
<text transform="translate(683.00,204.50) scale(1.000,1)" text-anchor="end" font-size="29.2">4</text>
<path d="M702.30 140.90L697.20 140.90" stroke="#000" stroke-width="3.00"/>
<path d="M1071.00 140.90L1076.10 140.90" stroke="#000" stroke-width="3.00"/>
<text transform="translate(683.00,153.30) scale(1.000,1)" text-anchor="end" font-size="29.2">5</text>
<path d="M702.30 89.70L697.20 89.70" stroke="#000" stroke-width="3.00"/>
<path d="M1071.00 89.70L1076.10 89.70" stroke="#000" stroke-width="3.00"/>
<text transform="translate(683.00,102.10) scale(1.000,1)" text-anchor="end" font-size="29.2">6</text>
<path d="M702.30 38.50L697.20 38.50" stroke="#000" stroke-width="3.00"/>
<path d="M1071.00 38.50L1076.10 38.50" stroke="#000" stroke-width="3.00"/>
<text transform="translate(683.00,50.90) scale(1.000,1)" text-anchor="end" font-size="29.2">7</text>
<path d="M707.40 35.70L707.40 30.60" stroke="#000" stroke-width="3.00"/>
<path d="M707.40 404.40L707.40 409.50" stroke="#000" stroke-width="3.00"/>
<text transform="translate(706.80,443.60) scale(1.000,1)" text-anchor="middle" font-size="29.2">30</text>
<path d="M791.60 35.70L791.60 30.60" stroke="#000" stroke-width="3.00"/>
<path d="M791.60 404.40L791.60 409.50" stroke="#000" stroke-width="3.00"/>
<text transform="translate(791.00,443.60) scale(1.000,1)" text-anchor="middle" font-size="29.2">70</text>
<path d="M875.80 35.70L875.80 30.60" stroke="#000" stroke-width="3.00"/>
<path d="M875.80 404.40L875.80 409.50" stroke="#000" stroke-width="3.00"/>
<text transform="translate(875.20,443.60) scale(1.000,1)" text-anchor="middle" font-size="29.2">110</text>
<path d="M960.00 35.70L960.00 30.60" stroke="#000" stroke-width="3.00"/>
<path d="M960.00 404.40L960.00 409.50" stroke="#000" stroke-width="3.00"/>
<text transform="translate(959.40,443.60) scale(1.000,1)" text-anchor="middle" font-size="29.2">150</text>
<path d="M1044.20 35.70L1044.20 30.60" stroke="#000" stroke-width="3.00"/>
<path d="M1044.20 404.40L1044.20 409.50" stroke="#000" stroke-width="3.00"/>
<text transform="translate(1043.60,443.60) scale(1.000,1)" text-anchor="middle" font-size="29.2">190</text>
<text transform="translate(876.05,482.70) scale(1.000,1)" text-anchor="middle" font-size="29.2">Gain current (mA)</text>
<text transform="translate(642.10,217.50) rotate(-90) scale(0.957,1)" text-anchor="middle" font-size="29.2">SA reverse bias (V)</text>
<text transform="translate(618.00,36.00) scale(1.000,1)" text-anchor="start" font-size="41.5" font-weight="bold">b</text>
<text transform="translate(722.20,192.40) scale(1.000,1)" text-anchor="start" font-size="29.2" fill="#e8152a">AM</text>
<text transform="translate(843.50,353.10) scale(1.000,1)" text-anchor="start" font-size="29.2">FM</text>
<g shape-rendering="crispEdges">
<rect x="1088.90" y="35.70" width="31.70" height="6.16" fill="#f8f817"/>
<rect x="1088.90" y="41.46" width="31.70" height="6.16" fill="#f7f11c"/>
<rect x="1088.90" y="47.22" width="31.70" height="6.16" fill="#f6eb21"/>
<rect x="1088.90" y="52.98" width="31.70" height="6.16" fill="#f6e425"/>
<rect x="1088.90" y="58.74" width="31.70" height="6.16" fill="#f8dc28"/>
<rect x="1088.90" y="64.50" width="31.70" height="6.16" fill="#fad52b"/>
<rect x="1088.90" y="70.27" width="31.70" height="6.16" fill="#fcce2e"/>
<rect x="1088.90" y="76.03" width="31.70" height="6.16" fill="#fdca32"/>
<rect x="1088.90" y="81.79" width="31.70" height="6.16" fill="#fec636"/>
<rect x="1088.90" y="87.55" width="31.70" height="6.16" fill="#fbc237"/>
<rect x="1088.90" y="93.31" width="31.70" height="6.16" fill="#f4c033"/>
<rect x="1088.90" y="99.07" width="31.70" height="6.16" fill="#edbe30"/>
<rect x="1088.90" y="104.83" width="31.70" height="6.16" fill="#e5bd2c"/>
<rect x="1088.90" y="110.59" width="31.70" height="6.16" fill="#ddbd2a"/>
<rect x="1088.90" y="116.35" width="31.70" height="6.16" fill="#d4be2a"/>
<rect x="1088.90" y="122.11" width="31.70" height="6.16" fill="#cabf2a"/>
<rect x="1088.90" y="127.88" width="31.70" height="6.16" fill="#bfc22f"/>
<rect x="1088.90" y="133.64" width="31.70" height="6.16" fill="#b4c535"/>
<rect x="1088.90" y="139.40" width="31.70" height="6.16" fill="#a7c73c"/>
<rect x="1088.90" y="145.16" width="31.70" height="6.16" fill="#92ca4b"/>
<rect x="1088.90" y="150.92" width="31.70" height="6.16" fill="#7ecc5a"/>
<rect x="1088.90" y="156.68" width="31.70" height="6.16" fill="#6ccd66"/>
<rect x="1088.90" y="162.44" width="31.70" height="6.16" fill="#60cc6e"/>
<rect x="1088.90" y="168.20" width="31.70" height="6.16" fill="#54cc76"/>
<rect x="1088.90" y="173.96" width="31.70" height="6.16" fill="#49cb7e"/>
<rect x="1088.90" y="179.72" width="31.70" height="6.16" fill="#43ca87"/>
<rect x="1088.90" y="185.48" width="31.70" height="6.16" fill="#3cc98f"/>
<rect x="1088.90" y="191.25" width="31.70" height="6.16" fill="#36c897"/>
<rect x="1088.90" y="197.01" width="31.70" height="6.16" fill="#2ec69e"/>
<rect x="1088.90" y="202.77" width="31.70" height="6.16" fill="#27c3a6"/>
<rect x="1088.90" y="208.53" width="31.70" height="6.16" fill="#1fc1ad"/>
<rect x="1088.90" y="214.29" width="31.70" height="6.16" fill="#18bfb4"/>
<rect x="1088.90" y="220.05" width="31.70" height="6.16" fill="#0fbdbb"/>
<rect x="1088.90" y="225.81" width="31.70" height="6.16" fill="#05bbc1"/>
<rect x="1088.90" y="231.57" width="31.70" height="6.16" fill="#05b8c8"/>
<rect x="1088.90" y="237.33" width="31.70" height="6.16" fill="#0bb5ce"/>
<rect x="1088.90" y="243.09" width="31.70" height="6.16" fill="#11b2d5"/>
<rect x="1088.90" y="248.85" width="31.70" height="6.16" fill="#17aeda"/>
<rect x="1088.90" y="254.62" width="31.70" height="6.16" fill="#1caadf"/>
<rect x="1088.90" y="260.38" width="31.70" height="6.16" fill="#1fa5e2"/>
<rect x="1088.90" y="266.14" width="31.70" height="6.16" fill="#22a0e5"/>
<rect x="1088.90" y="271.90" width="31.70" height="6.16" fill="#259be8"/>
<rect x="1088.90" y="277.66" width="31.70" height="6.16" fill="#2797eb"/>
<rect x="1088.90" y="283.42" width="31.70" height="6.16" fill="#2992ef"/>
<rect x="1088.90" y="289.18" width="31.70" height="6.16" fill="#2b8df3"/>
<rect x="1088.90" y="294.94" width="31.70" height="6.16" fill="#2e88f6"/>
<rect x="1088.90" y="300.70" width="31.70" height="6.16" fill="#3082f9"/>
<rect x="1088.90" y="306.46" width="31.70" height="6.16" fill="#327dfc"/>
<rect x="1088.90" y="312.23" width="31.70" height="6.16" fill="#3677fd"/>
<rect x="1088.90" y="317.99" width="31.70" height="6.16" fill="#3a71fd"/>
<rect x="1088.90" y="323.75" width="31.70" height="6.16" fill="#406bfd"/>
<rect x="1088.90" y="329.51" width="31.70" height="6.16" fill="#4365fc"/>
<rect x="1088.90" y="335.27" width="31.70" height="6.16" fill="#4560fa"/>
<rect x="1088.90" y="341.03" width="31.70" height="6.16" fill="#465af7"/>
<rect x="1088.90" y="346.79" width="31.70" height="6.16" fill="#4854f5"/>
<rect x="1088.90" y="352.55" width="31.70" height="6.16" fill="#484ef1"/>
<rect x="1088.90" y="358.31" width="31.70" height="6.16" fill="#4748ec"/>
<rect x="1088.90" y="364.07" width="31.70" height="6.16" fill="#4743e7"/>
<rect x="1088.90" y="369.83" width="31.70" height="6.16" fill="#463edf"/>
<rect x="1088.90" y="375.60" width="31.70" height="6.16" fill="#4539d8"/>
<rect x="1088.90" y="381.36" width="31.70" height="6.16" fill="#4434d0"/>
<rect x="1088.90" y="387.12" width="31.70" height="6.16" fill="#4330c6"/>
<rect x="1088.90" y="392.88" width="31.70" height="6.16" fill="#412cba"/>
<rect x="1088.90" y="398.64" width="31.70" height="6.16" fill="#3f28ae"/>
</g>
<rect x="1088.90" y="35.70" width="31.70" height="368.70" fill="none" stroke="#000" stroke-width="3.0"/>
<text transform="translate(1130.00,415.40) scale(1.000,1)" text-anchor="start" font-size="29.2">0</text>
<path d="M1120.60 299.06L1115.40 299.06" stroke="#000" stroke-width="3.00"/>
<text transform="translate(1130.00,310.06) scale(1.000,1)" text-anchor="start" font-size="29.2">10</text>
<path d="M1120.60 193.71L1115.40 193.71" stroke="#000" stroke-width="3.00"/>
<text transform="translate(1130.00,204.71) scale(1.000,1)" text-anchor="start" font-size="29.2">20</text>
<path d="M1120.60 88.37L1115.40 88.37" stroke="#000" stroke-width="3.00"/>
<text transform="translate(1130.00,99.37) scale(1.000,1)" text-anchor="start" font-size="29.2">30</text>
<text transform="translate(1199.50,219.60) rotate(-90) scale(1.000,1)" text-anchor="middle" font-size="29.2">SMSR (dB)</text>
<g shape-rendering="crispEdges">
<rect x="1331.30" y="36.04" width="10.66" height="15.66" fill="#2f85f8"/>
<rect x="1341.66" y="36.04" width="10.83" height="15.66" fill="#15afd8"/>
<rect x="1352.19" y="36.04" width="10.83" height="15.66" fill="#4433ce"/>
<rect x="1362.71" y="36.04" width="10.83" height="15.66" fill="#4433ce"/>
<rect x="1373.24" y="36.04" width="10.83" height="15.66" fill="#4539d8"/>
<rect x="1383.76" y="36.04" width="10.83" height="15.66" fill="#422fc3"/>
<rect x="1394.29" y="36.04" width="10.83" height="15.66" fill="#422ebf"/>
<rect x="1404.81" y="36.04" width="10.83" height="15.66" fill="#422ebf"/>
<rect x="1415.34" y="36.04" width="10.83" height="15.66" fill="#422ebf"/>
<rect x="1425.86" y="36.04" width="10.83" height="15.66" fill="#4433ce"/>
<rect x="1331.30" y="51.40" width="10.66" height="15.66" fill="#2f85f8"/>
<rect x="1341.66" y="51.40" width="10.83" height="15.66" fill="#11b2d5"/>
<rect x="1352.19" y="51.40" width="10.83" height="15.66" fill="#11b2d5"/>
<rect x="1362.71" y="51.40" width="10.83" height="15.66" fill="#4749ed"/>
<rect x="1373.24" y="51.40" width="10.83" height="15.66" fill="#239ee6"/>
<rect x="1383.76" y="51.40" width="10.83" height="15.66" fill="#1caadf"/>
<rect x="1394.29" y="51.40" width="10.83" height="15.66" fill="#463cdc"/>
<rect x="1404.81" y="51.40" width="10.83" height="15.66" fill="#4538d5"/>
<rect x="1415.34" y="51.40" width="10.83" height="15.66" fill="#4749ed"/>
<rect x="1425.86" y="51.40" width="10.83" height="15.66" fill="#4746e9"/>
<rect x="1331.30" y="66.76" width="10.66" height="15.66" fill="#3081fa"/>
<rect x="1341.66" y="66.76" width="10.83" height="15.66" fill="#4433ce"/>
<rect x="1352.19" y="66.76" width="10.83" height="15.66" fill="#3ec98d"/>
<rect x="1362.71" y="66.76" width="10.83" height="15.66" fill="#42ca88"/>
<rect x="1373.24" y="66.76" width="10.83" height="15.66" fill="#2b8ef1"/>
<rect x="1383.76" y="66.76" width="10.83" height="15.66" fill="#42ca88"/>
<rect x="1394.29" y="66.76" width="10.83" height="15.66" fill="#4749ed"/>
<rect x="1404.81" y="66.76" width="10.83" height="15.66" fill="#4749ed"/>
<rect x="1415.34" y="66.76" width="10.83" height="15.66" fill="#3676fd"/>
<rect x="1425.86" y="66.76" width="10.83" height="15.66" fill="#44ca85"/>
<rect x="1436.39" y="66.76" width="10.83" height="15.66" fill="#327efb"/>
<rect x="1331.30" y="82.12" width="10.66" height="15.66" fill="#4463fb"/>
<rect x="1341.66" y="82.12" width="10.83" height="15.66" fill="#239ee6"/>
<rect x="1352.19" y="82.12" width="10.83" height="15.66" fill="#3676fd"/>
<rect x="1362.71" y="82.12" width="10.83" height="15.66" fill="#f8c235"/>
<rect x="1373.24" y="82.12" width="10.83" height="15.66" fill="#99c946"/>
<rect x="1383.76" y="82.12" width="10.83" height="15.66" fill="#c1c22e"/>
<rect x="1394.29" y="82.12" width="10.83" height="15.66" fill="#2fc69e"/>
<rect x="1404.81" y="82.12" width="10.83" height="15.66" fill="#14beb8"/>
<rect x="1415.34" y="82.12" width="10.83" height="15.66" fill="#46ca82"/>
<rect x="1425.86" y="82.12" width="10.83" height="15.66" fill="#c5c12c"/>
<rect x="1436.39" y="82.12" width="10.83" height="15.66" fill="#e8bd2d"/>
<rect x="1331.30" y="97.48" width="10.66" height="15.66" fill="#259be8"/>
<rect x="1341.66" y="97.48" width="10.83" height="15.66" fill="#3081fa"/>
<rect x="1352.19" y="97.48" width="10.83" height="15.66" fill="#3081fa"/>
<rect x="1362.71" y="97.48" width="10.83" height="15.66" fill="#2f85f8"/>
<rect x="1373.24" y="97.48" width="10.83" height="15.66" fill="#e3bc2b"/>
<rect x="1383.76" y="97.48" width="10.83" height="15.66" fill="#f9d82a"/>
<rect x="1394.29" y="97.48" width="10.83" height="15.66" fill="#11b2d5"/>
<rect x="1404.81" y="97.48" width="10.83" height="15.66" fill="#484df0"/>
<rect x="1415.34" y="97.48" width="10.83" height="15.66" fill="#484df0"/>
<rect x="1425.86" y="97.48" width="10.83" height="15.66" fill="#14beb8"/>
<rect x="1436.39" y="97.48" width="10.83" height="15.66" fill="#d2be2a"/>
<rect x="1446.91" y="97.48" width="10.83" height="15.66" fill="#e8bd2d"/>
<rect x="1331.30" y="112.84" width="10.66" height="15.66" fill="#3083f9"/>
<rect x="1341.66" y="112.84" width="10.83" height="15.66" fill="#2f85f8"/>
<rect x="1352.19" y="112.84" width="10.83" height="15.66" fill="#1ec1af"/>
<rect x="1362.71" y="112.84" width="10.83" height="15.66" fill="#07bbc0"/>
<rect x="1373.24" y="112.84" width="10.83" height="15.66" fill="#fec437"/>
<rect x="1383.76" y="112.84" width="10.83" height="15.66" fill="#f8dc28"/>
<rect x="1394.29" y="112.84" width="10.83" height="15.66" fill="#fec437"/>
<rect x="1404.81" y="112.84" width="10.83" height="15.66" fill="#2698ea"/>
<rect x="1415.34" y="112.84" width="10.83" height="15.66" fill="#1ea7e1"/>
<rect x="1425.86" y="112.84" width="10.83" height="15.66" fill="#fec536"/>
<rect x="1436.39" y="112.84" width="10.83" height="15.66" fill="#3cc98f"/>
<rect x="1446.91" y="112.84" width="10.83" height="15.66" fill="#4acb7d"/>
<rect x="1331.30" y="128.20" width="10.66" height="15.66" fill="#3083f9"/>
<rect x="1341.66" y="128.20" width="10.83" height="15.66" fill="#2698ea"/>
<rect x="1352.19" y="128.20" width="10.83" height="15.66" fill="#f1c032"/>
<rect x="1362.71" y="128.20" width="10.83" height="15.66" fill="#5ecc70"/>
<rect x="1373.24" y="128.20" width="10.83" height="15.66" fill="#7ecc59"/>
<rect x="1383.76" y="128.20" width="10.83" height="15.66" fill="#fccb30"/>
<rect x="1394.29" y="128.20" width="10.83" height="15.66" fill="#f8f718"/>
<rect x="1404.81" y="128.20" width="10.83" height="15.66" fill="#1caadf"/>
<rect x="1415.34" y="128.20" width="10.83" height="15.66" fill="#20a4e3"/>
<rect x="1425.86" y="128.20" width="10.83" height="15.66" fill="#259be8"/>
<rect x="1436.39" y="128.20" width="10.83" height="15.66" fill="#1ec1af"/>
<rect x="1446.91" y="128.20" width="10.83" height="15.66" fill="#4ecb7a"/>
<rect x="1489.01" y="128.20" width="10.83" height="15.66" fill="#f6e425"/>
<rect x="1331.30" y="143.56" width="10.66" height="15.66" fill="#3083f9"/>
<rect x="1341.66" y="143.56" width="10.83" height="15.66" fill="#2cc5a1"/>
<rect x="1352.19" y="143.56" width="10.83" height="15.66" fill="#c1c22e"/>
<rect x="1362.71" y="143.56" width="10.83" height="15.66" fill="#f1c032"/>
<rect x="1373.24" y="143.56" width="10.83" height="15.66" fill="#99c946"/>
<rect x="1383.76" y="143.56" width="10.83" height="15.66" fill="#fec536"/>
<rect x="1394.29" y="143.56" width="10.83" height="15.66" fill="#f8f718"/>
<rect x="1404.81" y="143.56" width="10.83" height="15.66" fill="#2698ea"/>
<rect x="1415.34" y="143.56" width="10.83" height="15.66" fill="#2b8ef1"/>
<rect x="1425.86" y="143.56" width="10.83" height="15.66" fill="#259be8"/>
<rect x="1436.39" y="143.56" width="10.83" height="15.66" fill="#4ecb7a"/>
<rect x="1446.91" y="143.56" width="10.83" height="15.66" fill="#fcce2e"/>
<rect x="1457.44" y="143.56" width="10.83" height="15.66" fill="#fcce2e"/>
<rect x="1331.30" y="158.92" width="10.66" height="15.66" fill="#3083f9"/>
<rect x="1341.66" y="158.92" width="10.83" height="15.66" fill="#2895ed"/>
<rect x="1352.19" y="158.92" width="10.83" height="15.66" fill="#c5c12c"/>
<rect x="1362.71" y="158.92" width="10.83" height="15.66" fill="#fec536"/>
<rect x="1373.24" y="158.92" width="10.83" height="15.66" fill="#fccb30"/>
<rect x="1383.76" y="158.92" width="10.83" height="15.66" fill="#fdc635"/>
<rect x="1394.29" y="158.92" width="10.83" height="15.66" fill="#f8f718"/>
<rect x="1404.81" y="158.92" width="10.83" height="15.66" fill="#259be8"/>
<rect x="1415.34" y="158.92" width="10.83" height="15.66" fill="#2698ea"/>
<rect x="1425.86" y="158.92" width="10.83" height="15.66" fill="#1caadf"/>
<rect x="1436.39" y="158.92" width="10.83" height="15.66" fill="#f4c033"/>
<rect x="1446.91" y="158.92" width="10.83" height="15.66" fill="#fec437"/>
<rect x="1457.44" y="158.92" width="10.83" height="15.66" fill="#fec536"/>
<rect x="1467.96" y="158.92" width="10.83" height="15.66" fill="#ecbe30"/>
<rect x="1489.01" y="158.92" width="10.83" height="15.66" fill="#f6e126"/>
<rect x="1331.30" y="174.28" width="10.66" height="15.66" fill="#2b8ef1"/>
<rect x="1341.66" y="174.28" width="10.83" height="15.66" fill="#1ea7e1"/>
<rect x="1352.19" y="174.28" width="10.83" height="15.66" fill="#11b2d5"/>
<rect x="1362.71" y="174.28" width="10.83" height="15.66" fill="#fec437"/>
<rect x="1373.24" y="174.28" width="10.83" height="15.66" fill="#fccb30"/>
<rect x="1383.76" y="174.28" width="10.83" height="15.66" fill="#fcce2e"/>
<rect x="1394.29" y="174.28" width="10.83" height="15.66" fill="#fcce2e"/>
<rect x="1404.81" y="174.28" width="10.83" height="15.66" fill="#1aabdd"/>
<rect x="1415.34" y="174.28" width="10.83" height="15.66" fill="#239ee6"/>
<rect x="1425.86" y="174.28" width="10.83" height="15.66" fill="#3ec98d"/>
<rect x="1436.39" y="174.28" width="10.83" height="15.66" fill="#3ec98d"/>
<rect x="1446.91" y="174.28" width="10.83" height="15.66" fill="#7ecc59"/>
<rect x="1467.96" y="174.28" width="10.83" height="15.66" fill="#fbd02d"/>
<rect x="1478.49" y="174.28" width="10.83" height="15.66" fill="#fbd32c"/>
<rect x="1331.30" y="189.64" width="10.66" height="15.66" fill="#4463fb"/>
<rect x="1341.66" y="189.64" width="10.83" height="15.66" fill="#3ec98d"/>
<rect x="1352.19" y="189.64" width="10.83" height="15.66" fill="#69cd68"/>
<rect x="1362.71" y="189.64" width="10.83" height="15.66" fill="#fec536"/>
<rect x="1373.24" y="189.64" width="10.83" height="15.66" fill="#fbd02d"/>
<rect x="1383.76" y="189.64" width="10.83" height="15.66" fill="#f8f51a"/>
<rect x="1394.29" y="189.64" width="10.83" height="15.66" fill="#99c946"/>
<rect x="1404.81" y="189.64" width="10.83" height="15.66" fill="#2f85f8"/>
<rect x="1415.34" y="189.64" width="10.83" height="15.66" fill="#2e87f7"/>
<rect x="1425.86" y="189.64" width="10.83" height="15.66" fill="#01bac4"/>
<rect x="1436.39" y="189.64" width="10.83" height="15.66" fill="#03b9c6"/>
<rect x="1446.91" y="189.64" width="10.83" height="15.66" fill="#7ecc59"/>
<rect x="1331.30" y="205.00" width="10.66" height="15.66" fill="#3083f9"/>
<rect x="1341.66" y="205.00" width="10.83" height="15.66" fill="#40c98a"/>
<rect x="1352.19" y="205.00" width="10.83" height="15.66" fill="#1ec1af"/>
<rect x="1362.71" y="205.00" width="10.83" height="15.66" fill="#b3c535"/>
<rect x="1373.24" y="205.00" width="10.83" height="15.66" fill="#fbd02d"/>
<rect x="1383.76" y="205.00" width="10.83" height="15.66" fill="#f7df27"/>
<rect x="1394.29" y="205.00" width="10.83" height="15.66" fill="#2cc5a1"/>
<rect x="1404.81" y="205.00" width="10.83" height="15.66" fill="#2f85f8"/>
<rect x="1415.34" y="205.00" width="10.83" height="15.66" fill="#2b8ef1"/>
<rect x="1425.86" y="205.00" width="10.83" height="15.66" fill="#4ecb7a"/>
<rect x="1436.39" y="205.00" width="10.83" height="15.66" fill="#fec437"/>
<rect x="1331.30" y="220.36" width="10.66" height="15.66" fill="#2698ea"/>
<rect x="1341.66" y="220.36" width="10.83" height="15.66" fill="#3ec98d"/>
<rect x="1352.19" y="220.36" width="10.83" height="15.66" fill="#71cd63"/>
<rect x="1362.71" y="220.36" width="10.83" height="15.66" fill="#2b8ef1"/>
<rect x="1373.24" y="220.36" width="10.83" height="15.66" fill="#fbd32c"/>
<rect x="1383.76" y="220.36" width="10.83" height="15.66" fill="#f6e126"/>
<rect x="1394.29" y="220.36" width="10.83" height="15.66" fill="#fdc338"/>
<rect x="1404.81" y="220.36" width="10.83" height="15.66" fill="#a6c83d"/>
<rect x="1415.34" y="220.36" width="10.83" height="15.66" fill="#fec536"/>
<rect x="1331.30" y="235.72" width="10.66" height="15.66" fill="#20a4e3"/>
<rect x="1341.66" y="235.72" width="10.83" height="15.66" fill="#11b2d5"/>
<rect x="1352.19" y="235.72" width="10.83" height="15.66" fill="#09b6cc"/>
<rect x="1362.71" y="235.72" width="10.83" height="15.66" fill="#c5c12c"/>
<rect x="1373.24" y="235.72" width="10.83" height="15.66" fill="#fec437"/>
<rect x="1383.76" y="235.72" width="10.83" height="15.66" fill="#fec437"/>
<rect x="1331.30" y="251.08" width="10.66" height="15.66" fill="#20a4e3"/>
<rect x="1341.66" y="251.08" width="10.83" height="15.66" fill="#14beb8"/>
<rect x="1352.19" y="251.08" width="10.83" height="15.66" fill="#2cc5a1"/>
<rect x="1362.71" y="251.08" width="10.83" height="15.66" fill="#3cc98f"/>
<rect x="1373.24" y="251.08" width="10.83" height="15.66" fill="#2b8ef1"/>
<rect x="1331.30" y="266.44" width="10.66" height="15.66" fill="#239ee6"/>
<rect x="1341.66" y="266.44" width="10.83" height="15.66" fill="#3081fa"/>
<rect x="1352.19" y="266.44" width="10.83" height="15.66" fill="#d2be2a"/>
<rect x="1331.30" y="281.80" width="10.66" height="15.66" fill="#4746e9"/>
<rect x="1341.66" y="281.80" width="10.83" height="15.66" fill="#239ee6"/>
<rect x="1625.84" y="82.12" width="10.83" height="15.66" fill="#22c2aa"/>
</g>
<rect x="1331.30" y="35.80" width="368.70" height="368.70" fill="none" stroke="#000" stroke-width="3.2"/>
<path d="M1331.30 397.00L1326.20 397.00" stroke="#000" stroke-width="3.00"/>
<path d="M1700.00 397.00L1705.10 397.00" stroke="#000" stroke-width="3.00"/>
<text transform="translate(1314.30,407.90) scale(1.000,1)" text-anchor="end" font-size="29.2">0</text>
<path d="M1331.30 345.80L1326.20 345.80" stroke="#000" stroke-width="3.00"/>
<path d="M1700.00 345.80L1705.10 345.80" stroke="#000" stroke-width="3.00"/>
<text transform="translate(1314.30,356.70) scale(1.000,1)" text-anchor="end" font-size="29.2">1</text>
<path d="M1331.30 294.60L1326.20 294.60" stroke="#000" stroke-width="3.00"/>
<path d="M1700.00 294.60L1705.10 294.60" stroke="#000" stroke-width="3.00"/>
<text transform="translate(1314.30,305.50) scale(1.000,1)" text-anchor="end" font-size="29.2">2</text>
<path d="M1331.30 243.40L1326.20 243.40" stroke="#000" stroke-width="3.00"/>
<path d="M1700.00 243.40L1705.10 243.40" stroke="#000" stroke-width="3.00"/>
<text transform="translate(1314.30,254.30) scale(1.000,1)" text-anchor="end" font-size="29.2">3</text>
<path d="M1331.30 192.20L1326.20 192.20" stroke="#000" stroke-width="3.00"/>
<path d="M1700.00 192.20L1705.10 192.20" stroke="#000" stroke-width="3.00"/>
<text transform="translate(1314.30,203.10) scale(1.000,1)" text-anchor="end" font-size="29.2">4</text>
<path d="M1331.30 141.00L1326.20 141.00" stroke="#000" stroke-width="3.00"/>
<path d="M1700.00 141.00L1705.10 141.00" stroke="#000" stroke-width="3.00"/>
<text transform="translate(1314.30,151.90) scale(1.000,1)" text-anchor="end" font-size="29.2">5</text>
<path d="M1331.30 89.80L1326.20 89.80" stroke="#000" stroke-width="3.00"/>
<path d="M1700.00 89.80L1705.10 89.80" stroke="#000" stroke-width="3.00"/>
<text transform="translate(1314.30,100.70) scale(1.000,1)" text-anchor="end" font-size="29.2">6</text>
<path d="M1331.30 38.60L1326.20 38.60" stroke="#000" stroke-width="3.00"/>
<path d="M1700.00 38.60L1705.10 38.60" stroke="#000" stroke-width="3.00"/>
<text transform="translate(1314.30,49.50) scale(1.000,1)" text-anchor="end" font-size="29.2">7</text>
<path d="M1336.40 35.80L1336.40 30.70" stroke="#000" stroke-width="3.00"/>
<path d="M1336.40 404.50L1336.40 409.60" stroke="#000" stroke-width="3.00"/>
<text transform="translate(1336.00,443.60) scale(1.000,1)" text-anchor="middle" font-size="29.2">30</text>
<path d="M1420.60 35.80L1420.60 30.70" stroke="#000" stroke-width="3.00"/>
<path d="M1420.60 404.50L1420.60 409.60" stroke="#000" stroke-width="3.00"/>
<text transform="translate(1420.20,443.60) scale(1.000,1)" text-anchor="middle" font-size="29.2">70</text>
<path d="M1504.80 35.80L1504.80 30.70" stroke="#000" stroke-width="3.00"/>
<path d="M1504.80 404.50L1504.80 409.60" stroke="#000" stroke-width="3.00"/>
<text transform="translate(1504.40,443.60) scale(1.000,1)" text-anchor="middle" font-size="29.2">110</text>
<path d="M1589.00 35.80L1589.00 30.70" stroke="#000" stroke-width="3.00"/>
<path d="M1589.00 404.50L1589.00 409.60" stroke="#000" stroke-width="3.00"/>
<text transform="translate(1588.60,443.60) scale(1.000,1)" text-anchor="middle" font-size="29.2">150</text>
<path d="M1673.20 35.80L1673.20 30.70" stroke="#000" stroke-width="3.00"/>
<path d="M1673.20 404.50L1673.20 409.60" stroke="#000" stroke-width="3.00"/>
<text transform="translate(1672.80,443.60) scale(1.000,1)" text-anchor="middle" font-size="29.2">190</text>
<text transform="translate(1505.15,482.70) scale(1.000,1)" text-anchor="middle" font-size="29.2">Gain current (mA)</text>
<text transform="translate(1273.50,220.00) rotate(-90) scale(1.000,1)" text-anchor="middle" font-size="29.2">SA reverse voltage (V)</text>
<text transform="translate(1252.50,36.00) scale(1.000,1)" text-anchor="start" font-size="41.5" font-weight="bold">c</text>
<text transform="translate(1355.30,192.40) scale(1.000,1)" text-anchor="start" font-size="29.2" fill="#e8152a">AM</text>
<text transform="translate(1476.50,353.10) scale(1.000,1)" text-anchor="start" font-size="29.2">FM</text>
<g shape-rendering="crispEdges">
<rect x="1717.90" y="35.80" width="31.90" height="6.16" fill="#f8f817"/>
<rect x="1717.90" y="41.56" width="31.90" height="6.16" fill="#f7f11c"/>
<rect x="1717.90" y="47.32" width="31.90" height="6.16" fill="#f6eb21"/>
<rect x="1717.90" y="53.08" width="31.90" height="6.16" fill="#f6e425"/>
<rect x="1717.90" y="58.84" width="31.90" height="6.16" fill="#f8dc28"/>
<rect x="1717.90" y="64.60" width="31.90" height="6.16" fill="#fad52b"/>
<rect x="1717.90" y="70.37" width="31.90" height="6.16" fill="#fcce2e"/>
<rect x="1717.90" y="76.13" width="31.90" height="6.16" fill="#fdca32"/>
<rect x="1717.90" y="81.89" width="31.90" height="6.16" fill="#fec636"/>
<rect x="1717.90" y="87.65" width="31.90" height="6.16" fill="#fbc237"/>
<rect x="1717.90" y="93.41" width="31.90" height="6.16" fill="#f4c033"/>
<rect x="1717.90" y="99.17" width="31.90" height="6.16" fill="#edbe30"/>
<rect x="1717.90" y="104.93" width="31.90" height="6.16" fill="#e5bd2c"/>
<rect x="1717.90" y="110.69" width="31.90" height="6.16" fill="#ddbd2a"/>
<rect x="1717.90" y="116.45" width="31.90" height="6.16" fill="#d4be2a"/>
<rect x="1717.90" y="122.21" width="31.90" height="6.16" fill="#cabf2a"/>
<rect x="1717.90" y="127.97" width="31.90" height="6.16" fill="#bfc22f"/>
<rect x="1717.90" y="133.74" width="31.90" height="6.16" fill="#b4c535"/>
<rect x="1717.90" y="139.50" width="31.90" height="6.16" fill="#a7c73c"/>
<rect x="1717.90" y="145.26" width="31.90" height="6.16" fill="#92ca4b"/>
<rect x="1717.90" y="151.02" width="31.90" height="6.16" fill="#7ecc5a"/>
<rect x="1717.90" y="156.78" width="31.90" height="6.16" fill="#6ccd66"/>
<rect x="1717.90" y="162.54" width="31.90" height="6.16" fill="#60cc6e"/>
<rect x="1717.90" y="168.30" width="31.90" height="6.16" fill="#54cc76"/>
<rect x="1717.90" y="174.06" width="31.90" height="6.16" fill="#49cb7e"/>
<rect x="1717.90" y="179.82" width="31.90" height="6.16" fill="#43ca87"/>
<rect x="1717.90" y="185.58" width="31.90" height="6.16" fill="#3cc98f"/>
<rect x="1717.90" y="191.35" width="31.90" height="6.16" fill="#36c897"/>
<rect x="1717.90" y="197.11" width="31.90" height="6.16" fill="#2ec69e"/>
<rect x="1717.90" y="202.87" width="31.90" height="6.16" fill="#27c3a6"/>
<rect x="1717.90" y="208.63" width="31.90" height="6.16" fill="#1fc1ad"/>
<rect x="1717.90" y="214.39" width="31.90" height="6.16" fill="#18bfb4"/>
<rect x="1717.90" y="220.15" width="31.90" height="6.16" fill="#0fbdbb"/>
<rect x="1717.90" y="225.91" width="31.90" height="6.16" fill="#05bbc1"/>
<rect x="1717.90" y="231.67" width="31.90" height="6.16" fill="#05b8c8"/>
<rect x="1717.90" y="237.43" width="31.90" height="6.16" fill="#0bb5ce"/>
<rect x="1717.90" y="243.19" width="31.90" height="6.16" fill="#11b2d5"/>
<rect x="1717.90" y="248.95" width="31.90" height="6.16" fill="#17aeda"/>
<rect x="1717.90" y="254.72" width="31.90" height="6.16" fill="#1caadf"/>
<rect x="1717.90" y="260.48" width="31.90" height="6.16" fill="#1fa5e2"/>
<rect x="1717.90" y="266.24" width="31.90" height="6.16" fill="#22a0e5"/>
<rect x="1717.90" y="272.00" width="31.90" height="6.16" fill="#259be8"/>
<rect x="1717.90" y="277.76" width="31.90" height="6.16" fill="#2797eb"/>
<rect x="1717.90" y="283.52" width="31.90" height="6.16" fill="#2992ef"/>
<rect x="1717.90" y="289.28" width="31.90" height="6.16" fill="#2b8df3"/>
<rect x="1717.90" y="295.04" width="31.90" height="6.16" fill="#2e88f6"/>
<rect x="1717.90" y="300.80" width="31.90" height="6.16" fill="#3082f9"/>
<rect x="1717.90" y="306.56" width="31.90" height="6.16" fill="#327dfc"/>
<rect x="1717.90" y="312.32" width="31.90" height="6.16" fill="#3677fd"/>
<rect x="1717.90" y="318.09" width="31.90" height="6.16" fill="#3a71fd"/>
<rect x="1717.90" y="323.85" width="31.90" height="6.16" fill="#406bfd"/>
<rect x="1717.90" y="329.61" width="31.90" height="6.16" fill="#4365fc"/>
<rect x="1717.90" y="335.37" width="31.90" height="6.16" fill="#4560fa"/>
<rect x="1717.90" y="341.13" width="31.90" height="6.16" fill="#465af7"/>
<rect x="1717.90" y="346.89" width="31.90" height="6.16" fill="#4854f5"/>
<rect x="1717.90" y="352.65" width="31.90" height="6.16" fill="#484ef1"/>
<rect x="1717.90" y="358.41" width="31.90" height="6.16" fill="#4748ec"/>
<rect x="1717.90" y="364.17" width="31.90" height="6.16" fill="#4743e7"/>
<rect x="1717.90" y="369.93" width="31.90" height="6.16" fill="#463edf"/>
<rect x="1717.90" y="375.70" width="31.90" height="6.16" fill="#4539d8"/>
<rect x="1717.90" y="381.46" width="31.90" height="6.16" fill="#4434d0"/>
<rect x="1717.90" y="387.22" width="31.90" height="6.16" fill="#4330c6"/>
<rect x="1717.90" y="392.98" width="31.90" height="6.16" fill="#412cba"/>
<rect x="1717.90" y="398.74" width="31.90" height="6.16" fill="#3f28ae"/>
</g>
<rect x="1717.90" y="35.80" width="31.90" height="368.70" fill="none" stroke="#000" stroke-width="3.0"/>
<text transform="translate(1758.20,413.00) scale(1.000,1)" text-anchor="start" font-size="29.2">−70</text>
<path d="M1749.80 312.32L1744.60 312.32" stroke="#000" stroke-width="3.00"/>
<text transform="translate(1758.20,320.82) scale(1.000,1)" text-anchor="start" font-size="29.2">−65</text>
<path d="M1749.80 220.15L1744.60 220.15" stroke="#000" stroke-width="3.00"/>
<text transform="translate(1758.20,228.65) scale(1.000,1)" text-anchor="start" font-size="29.2">−60</text>
<path d="M1749.80 127.98L1744.60 127.98" stroke="#000" stroke-width="3.00"/>
<text transform="translate(1758.20,136.48) scale(1.000,1)" text-anchor="start" font-size="29.2">−55</text>
<text transform="translate(1758.20,44.30) scale(1.000,1)" text-anchor="start" font-size="29.2">−50</text>
<text transform="translate(1845.00,223.00) rotate(-90) scale(1.000,1)" text-anchor="middle" font-size="29.2">RF beatnote intensity (dBm)</text>
<clipPath id="cd"><rect x="82.40" y="571.60" width="686.90" height="363.70"/></clipPath>
<g clip-path="url(#cd)">
<polygon points="82.4,935.3 82.4,918.3 84.1,918.6 85.8,918.8 87.6,918.3 89.3,919.7 91.0,918.9 92.7,918.0 94.4,917.9 96.1,918.2 97.9,918.3 99.6,918.3 101.3,918.0 103.0,915.8 104.7,916.4 106.4,916.4 108.2,915.3 109.9,916.1 111.6,913.8 113.3,912.8 115.0,913.3 116.7,912.3 118.5,912.0 120.2,910.7 121.9,908.8 123.6,907.4 125.3,907.4 127.0,906.5 128.8,904.8 130.5,904.5 132.2,902.1 133.9,901.9 135.6,902.6 137.4,900.4 139.1,900.2 140.8,898.4 142.5,896.8 144.2,897.3 145.9,896.3 147.7,894.9 149.4,893.1 151.1,891.6 152.8,889.5 154.5,888.6 156.2,886.9 158.0,882.2 159.7,878.8 161.4,872.8 163.1,866.9 164.8,862.8 166.5,855.4 168.3,848.6 170.0,841.3 171.7,832.7 173.4,824.1 175.1,814.2 176.8,802.7 178.6,790.0 180.3,778.8 182.0,765.5 183.7,751.9 185.4,739.1 187.2,723.3 188.9,709.3 190.6,696.1 192.3,684.1 194.0,676.0 195.7,668.5 197.5,668.2 199.2,673.4 200.9,680.3 202.6,690.9 204.3,703.9 206.0,716.8 207.8,728.8 209.5,744.1 211.2,759.0 212.9,771.4 214.6,785.2 216.3,795.8 218.1,807.1 219.8,819.5 221.5,829.0 223.2,839.1 224.9,847.6 226.6,854.8 228.4,861.8 230.1,869.2 231.8,875.0 233.5,879.0 235.2,883.4 237.0,885.6 238.7,889.2 240.4,893.5 242.1,894.1 243.8,896.1 245.5,896.7 247.3,896.8 249.0,899.2 250.7,899.9 252.4,900.3 254.1,900.9 255.8,902.0 257.6,903.1 259.3,905.2 261.0,906.9 262.7,906.2 264.4,908.1 266.1,909.0 267.9,909.9 269.6,912.9 271.3,912.3 273.0,912.7 274.7,913.8 276.4,914.0 278.2,915.6 279.9,916.4 281.6,916.2 283.3,915.8 285.0,917.0 286.8,917.5 288.5,918.0 290.2,919.4 291.9,917.7 293.6,918.3 295.3,919.6 297.1,919.1 298.8,920.5 300.5,919.6 302.2,918.6 303.9,919.1 305.6,919.3 307.4,919.3 309.1,918.8 310.8,918.3 312.5,916.8 314.2,917.5 315.9,918.0 317.7,916.6 319.4,917.1 321.1,915.2 322.8,914.4 324.5,915.6 326.2,914.3 328.0,914.0 329.7,913.0 331.4,911.5 333.1,911.2 334.8,911.2 336.6,910.5 338.3,908.5 340.0,908.0 341.7,906.2 343.4,905.8 345.1,906.5 346.9,903.8 348.6,903.1 350.3,901.9 352.0,900.1 353.7,900.8 355.4,899.5 357.2,897.8 358.9,896.4 360.6,895.5 362.3,894.7 364.0,894.5 365.7,893.9 367.5,891.0 369.2,890.4 370.9,889.0 372.6,886.7 374.3,886.1 376.0,881.8 377.8,878.1 379.5,875.3 381.2,870.3 382.9,865.9 384.6,859.7 386.4,852.2 388.1,843.9 389.8,836.1 391.5,826.9 393.2,816.6 394.9,806.7 396.7,792.9 398.4,780.6 400.1,769.0 401.8,755.0 403.5,742.3 405.2,727.3 407.0,712.3 408.7,699.9 410.4,686.4 412.1,674.8 413.8,666.0 415.5,659.5 417.3,659.1 419.0,666.1 420.7,674.8 422.4,684.5 424.1,699.0 425.9,711.6 427.6,724.9 429.3,741.1 431.0,754.3 432.7,767.7 434.4,780.0 436.2,791.4 437.9,803.8 439.6,815.5 441.3,825.7 443.0,834.5 444.7,844.3 446.5,852.2 448.2,860.0 449.9,868.4 451.6,872.9 453.3,878.5 455.0,882.8 456.8,885.4 458.5,890.2 460.2,892.3 461.9,893.6 463.6,895.3 465.3,896.7 467.1,898.3 468.8,899.8 470.5,901.0 472.2,900.2 473.9,901.8 475.7,903.3 477.4,903.9 479.1,906.6 480.8,906.1 482.5,906.5 484.2,908.6 486.0,909.2 487.7,911.1 489.4,911.9 491.1,912.0 492.8,912.6 494.5,914.4 496.3,915.9 498.0,916.5 499.7,918.0 501.4,917.1 503.1,918.0 504.8,920.0 506.6,919.3 508.3,920.5 510.0,920.1 511.7,919.2 513.4,920.8 515.1,921.2 516.9,921.4 518.6,921.1 520.3,920.7 522.0,920.1 523.7,920.9 525.5,921.7 527.2,920.1 528.9,920.5 530.6,919.5 532.3,918.8 534.0,920.7 535.8,919.3 537.5,918.6 539.2,918.1 540.9,916.7 542.6,917.0 544.3,916.9 546.1,915.9 547.8,914.2 549.5,913.7 551.2,912.6 552.9,911.8 554.6,912.3 556.4,909.3 558.1,908.2 559.8,907.7 561.5,905.9 563.2,906.6 564.9,905.0 566.7,902.9 568.4,902.0 570.1,900.9 571.8,900.2 573.5,899.3 575.3,898.1 577.0,895.3 578.7,894.6 580.4,894.0 582.1,891.9 583.8,891.9 585.6,889.0 587.3,886.6 589.0,886.0 590.7,882.8 592.4,878.9 594.1,872.7 595.9,864.7 597.6,857.9 599.3,851.9 601.0,845.2 602.7,836.8 604.4,828.8 606.2,818.0 607.9,807.7 609.6,798.1 611.3,784.9 613.0,773.0 614.7,759.0 616.5,743.8 618.2,731.1 619.9,716.8 621.6,700.1 623.3,684.9 625.1,676.2 626.8,671.4 628.5,671.1 630.2,676.6 631.9,683.4 633.6,695.2 635.4,712.1 637.1,728.6 638.8,746.0 640.5,759.8 642.2,773.6 643.9,787.6 645.7,800.4 647.4,814.0 649.1,825.0 650.8,833.8 652.5,841.3 654.2,849.3 656.0,856.6 657.7,863.8 659.4,872.2 661.1,876.9 662.8,882.2 664.5,886.9 666.3,888.6 668.0,892.3 669.7,893.4 671.4,893.7 673.1,895.6 674.9,897.0 676.6,898.8 678.3,900.0 680.0,900.9 681.7,900.6 683.4,902.2 685.2,904.2 686.9,904.5 688.6,906.8 690.3,906.8 692.0,907.2 693.7,910.2 695.5,910.8 697.2,912.3 698.9,913.0 700.6,912.5 702.3,913.4 704.0,914.8 705.8,915.7 707.5,915.5 709.2,916.2 710.9,915.6 712.6,916.2 714.3,918.5 716.1,917.6 717.8,918.4 719.5,918.5 721.2,917.6 722.9,919.6 724.7,919.6 726.4,919.2 728.1,918.9 729.8,918.4 731.5,918.4 733.2,919.0 735.0,919.6 736.7,917.9 738.4,918.0 740.1,917.7 741.8,916.9 743.5,918.6 745.3,917.0 747.0,915.8 748.7,915.9 750.4,914.6 752.1,915.0 753.8,914.6 755.6,913.0 757.3,911.5 759.0,911.0 760.7,910.6 762.4,909.7 764.1,909.9 765.9,907.3 767.6,906.3 769.3,906.6 769.3,935.3" fill="#efb01f"/>
<polyline points="82.4,918.3 84.1,918.6 85.8,918.8 87.6,918.3 89.3,919.7 91.0,918.9 92.7,918.0 94.4,917.9 96.1,918.2 97.9,918.3 99.6,918.3 101.3,918.0 103.0,915.8 104.7,916.4 106.4,916.4 108.2,915.3 109.9,916.1 111.6,913.8 113.3,912.8 115.0,913.3 116.7,912.3 118.5,912.0 120.2,910.7 121.9,908.8 123.6,907.4 125.3,907.4 127.0,906.5 128.8,904.8 130.5,904.5 132.2,902.1 133.9,901.9 135.6,902.6 137.4,900.4 139.1,900.2 140.8,898.4 142.5,896.8 144.2,897.3 145.9,896.3 147.7,894.9 149.4,893.1 151.1,891.6 152.8,889.5 154.5,888.6 156.2,886.9 158.0,882.2 159.7,878.8 161.4,872.8 163.1,866.9 164.8,862.8 166.5,855.4 168.3,848.6 170.0,841.3 171.7,832.7 173.4,824.1 175.1,814.2 176.8,802.7 178.6,790.0 180.3,778.8 182.0,765.5 183.7,751.9 185.4,739.1 187.2,723.3 188.9,709.3 190.6,696.1 192.3,684.1 194.0,676.0 195.7,668.5 197.5,668.2 199.2,673.4 200.9,680.3 202.6,690.9 204.3,703.9 206.0,716.8 207.8,728.8 209.5,744.1 211.2,759.0 212.9,771.4 214.6,785.2 216.3,795.8 218.1,807.1 219.8,819.5 221.5,829.0 223.2,839.1 224.9,847.6 226.6,854.8 228.4,861.8 230.1,869.2 231.8,875.0 233.5,879.0 235.2,883.4 237.0,885.6 238.7,889.2 240.4,893.5 242.1,894.1 243.8,896.1 245.5,896.7 247.3,896.8 249.0,899.2 250.7,899.9 252.4,900.3 254.1,900.9 255.8,902.0 257.6,903.1 259.3,905.2 261.0,906.9 262.7,906.2 264.4,908.1 266.1,909.0 267.9,909.9 269.6,912.9 271.3,912.3 273.0,912.7 274.7,913.8 276.4,914.0 278.2,915.6 279.9,916.4 281.6,916.2 283.3,915.8 285.0,917.0 286.8,917.5 288.5,918.0 290.2,919.4 291.9,917.7 293.6,918.3 295.3,919.6 297.1,919.1 298.8,920.5 300.5,919.6 302.2,918.6 303.9,919.1 305.6,919.3 307.4,919.3 309.1,918.8 310.8,918.3 312.5,916.8 314.2,917.5 315.9,918.0 317.7,916.6 319.4,917.1 321.1,915.2 322.8,914.4 324.5,915.6 326.2,914.3 328.0,914.0 329.7,913.0 331.4,911.5 333.1,911.2 334.8,911.2 336.6,910.5 338.3,908.5 340.0,908.0 341.7,906.2 343.4,905.8 345.1,906.5 346.9,903.8 348.6,903.1 350.3,901.9 352.0,900.1 353.7,900.8 355.4,899.5 357.2,897.8 358.9,896.4 360.6,895.5 362.3,894.7 364.0,894.5 365.7,893.9 367.5,891.0 369.2,890.4 370.9,889.0 372.6,886.7 374.3,886.1 376.0,881.8 377.8,878.1 379.5,875.3 381.2,870.3 382.9,865.9 384.6,859.7 386.4,852.2 388.1,843.9 389.8,836.1 391.5,826.9 393.2,816.6 394.9,806.7 396.7,792.9 398.4,780.6 400.1,769.0 401.8,755.0 403.5,742.3 405.2,727.3 407.0,712.3 408.7,699.9 410.4,686.4 412.1,674.8 413.8,666.0 415.5,659.5 417.3,659.1 419.0,666.1 420.7,674.8 422.4,684.5 424.1,699.0 425.9,711.6 427.6,724.9 429.3,741.1 431.0,754.3 432.7,767.7 434.4,780.0 436.2,791.4 437.9,803.8 439.6,815.5 441.3,825.7 443.0,834.5 444.7,844.3 446.5,852.2 448.2,860.0 449.9,868.4 451.6,872.9 453.3,878.5 455.0,882.8 456.8,885.4 458.5,890.2 460.2,892.3 461.9,893.6 463.6,895.3 465.3,896.7 467.1,898.3 468.8,899.8 470.5,901.0 472.2,900.2 473.9,901.8 475.7,903.3 477.4,903.9 479.1,906.6 480.8,906.1 482.5,906.5 484.2,908.6 486.0,909.2 487.7,911.1 489.4,911.9 491.1,912.0 492.8,912.6 494.5,914.4 496.3,915.9 498.0,916.5 499.7,918.0 501.4,917.1 503.1,918.0 504.8,920.0 506.6,919.3 508.3,920.5 510.0,920.1 511.7,919.2 513.4,920.8 515.1,921.2 516.9,921.4 518.6,921.1 520.3,920.7 522.0,920.1 523.7,920.9 525.5,921.7 527.2,920.1 528.9,920.5 530.6,919.5 532.3,918.8 534.0,920.7 535.8,919.3 537.5,918.6 539.2,918.1 540.9,916.7 542.6,917.0 544.3,916.9 546.1,915.9 547.8,914.2 549.5,913.7 551.2,912.6 552.9,911.8 554.6,912.3 556.4,909.3 558.1,908.2 559.8,907.7 561.5,905.9 563.2,906.6 564.9,905.0 566.7,902.9 568.4,902.0 570.1,900.9 571.8,900.2 573.5,899.3 575.3,898.1 577.0,895.3 578.7,894.6 580.4,894.0 582.1,891.9 583.8,891.9 585.6,889.0 587.3,886.6 589.0,886.0 590.7,882.8 592.4,878.9 594.1,872.7 595.9,864.7 597.6,857.9 599.3,851.9 601.0,845.2 602.7,836.8 604.4,828.8 606.2,818.0 607.9,807.7 609.6,798.1 611.3,784.9 613.0,773.0 614.7,759.0 616.5,743.8 618.2,731.1 619.9,716.8 621.6,700.1 623.3,684.9 625.1,676.2 626.8,671.4 628.5,671.1 630.2,676.6 631.9,683.4 633.6,695.2 635.4,712.1 637.1,728.6 638.8,746.0 640.5,759.8 642.2,773.6 643.9,787.6 645.7,800.4 647.4,814.0 649.1,825.0 650.8,833.8 652.5,841.3 654.2,849.3 656.0,856.6 657.7,863.8 659.4,872.2 661.1,876.9 662.8,882.2 664.5,886.9 666.3,888.6 668.0,892.3 669.7,893.4 671.4,893.7 673.1,895.6 674.9,897.0 676.6,898.8 678.3,900.0 680.0,900.9 681.7,900.6 683.4,902.2 685.2,904.2 686.9,904.5 688.6,906.8 690.3,906.8 692.0,907.2 693.7,910.2 695.5,910.8 697.2,912.3 698.9,913.0 700.6,912.5 702.3,913.4 704.0,914.8 705.8,915.7 707.5,915.5 709.2,916.2 710.9,915.6 712.6,916.2 714.3,918.5 716.1,917.6 717.8,918.4 719.5,918.5 721.2,917.6 722.9,919.6 724.7,919.6 726.4,919.2 728.1,918.9 729.8,918.4 731.5,918.4 733.2,919.0 735.0,919.6 736.7,917.9 738.4,918.0 740.1,917.7 741.8,916.9 743.5,918.6 745.3,917.0 747.0,915.8 748.7,915.9 750.4,914.6 752.1,915.0 753.8,914.6 755.6,913.0 757.3,911.5 759.0,911.0 760.7,910.6 762.4,909.7 764.1,909.9 765.9,907.3 767.6,906.3 769.3,906.6" fill="none" stroke="#a13a50" stroke-width="5" stroke-linejoin="round"/>
<polyline points="210.2,911.7 211.5,911.7 212.9,911.7 214.3,911.7 215.7,911.7 217.0,911.7 218.4,911.7 219.8,911.7 221.2,911.7 222.5,911.7 223.9,911.7 225.3,911.7 226.6,911.7 228.0,911.7 229.4,911.7 230.8,911.7 232.1,911.7 233.5,911.7 234.9,911.7 236.3,911.7 237.6,911.7 239.0,911.7 240.4,911.7 241.8,911.7 243.1,911.7 244.5,911.7 245.9,911.7 247.3,911.7 248.6,911.7 250.0,911.7 251.4,911.7 252.8,911.7 254.1,911.7 255.5,911.7 256.9,911.7 258.2,911.7 259.6,911.7 261.0,911.7 262.4,911.7 263.7,911.7 265.1,911.7 266.5,911.7 267.9,911.7 269.2,911.7 270.6,911.7 272.0,911.7 273.4,911.7 274.7,911.7 276.1,911.7 277.5,911.7 278.9,911.7 280.2,911.7 281.6,911.7 283.0,911.7 284.3,911.7 285.7,911.7 287.1,911.7 288.5,911.7 289.8,911.7 291.2,911.7 292.6,911.7 294.0,911.7 295.3,911.6 296.7,911.6 298.1,911.6 299.5,911.6 300.8,911.6 302.2,911.6 303.6,911.6 305.0,911.6 306.3,911.6 307.7,911.6 309.1,911.6 310.5,911.6 311.8,911.6 313.2,911.6 314.6,911.6 315.9,911.6 317.3,911.6 318.7,911.6 320.1,911.6 321.4,911.5 322.8,911.5 324.2,911.5 325.6,911.5 326.9,911.5 328.3,911.4 329.7,911.4 331.1,911.4 332.4,911.3 333.8,911.3 335.2,911.2 336.6,911.2 337.9,911.1 339.3,911.0 340.7,910.9 342.0,910.8 343.4,910.7 344.8,910.6 346.2,910.4 347.5,910.2 348.9,910.0 350.3,909.8 351.7,909.6 353.0,909.3 354.4,908.9 355.8,908.6 357.2,908.1 358.5,907.6 359.9,907.1 361.3,906.5 362.7,905.7 364.0,904.9 365.4,904.0 366.8,903.0 368.2,901.8 369.5,900.4 370.9,898.9 372.3,897.2 373.6,895.2 375.0,893.0 376.4,890.5 377.8,887.7 379.1,884.5 380.5,881.0 381.9,877.0 383.3,872.6 384.6,867.7 386.0,862.2 387.4,856.1 388.8,849.4 390.1,842.0 391.5,834.0 392.9,825.2 394.3,815.8 395.6,805.7 397.0,795.0 398.4,783.7 399.7,771.9 401.1,759.8 402.5,747.5 403.9,735.2 405.2,723.2 406.6,711.6 408.0,700.9 409.4,691.2 410.7,682.8 412.1,675.9 413.5,670.9 414.9,667.8 416.2,666.8 417.6,667.8 419.0,670.9 420.4,675.9 421.7,682.8 423.1,691.2 424.5,700.9 425.9,711.6 427.2,723.2 428.6,735.2 430.0,747.5 431.3,759.8 432.7,771.9 434.1,783.7 435.5,795.0 436.8,805.7 438.2,815.8 439.6,825.2 441.0,834.0 442.3,842.0 443.7,849.4 445.1,856.1 446.5,862.2 447.8,867.7 449.2,872.6 450.6,877.0 452.0,881.0 453.3,884.5 454.7,887.7 456.1,890.5 457.4,893.0 458.8,895.2 460.2,897.2 461.6,898.9 462.9,900.4 464.3,901.8 465.7,903.0 467.1,904.0 468.4,904.9 469.8,905.7 471.2,906.5 472.6,907.1 473.9,907.6 475.3,908.1 476.7,908.6 478.1,908.9 479.4,909.3 480.8,909.6 482.2,909.8 483.5,910.0 484.9,910.2 486.3,910.4 487.7,910.6 489.0,910.7 490.4,910.8 491.8,910.9 493.2,911.0 494.5,911.1 495.9,911.2 497.3,911.2 498.7,911.3 500.0,911.3 501.4,911.4 502.8,911.4 504.2,911.4 505.5,911.5 506.9,911.5 508.3,911.5 509.7,911.5 511.0,911.5 512.4,911.6 513.8,911.6 515.1,911.6 516.5,911.6 517.9,911.6 519.3,911.6 520.6,911.6 522.0,911.6 523.4,911.6 524.8,911.6 526.1,911.6 527.5,911.6 528.9,911.6 530.3,911.6 531.6,911.6 533.0,911.6 534.4,911.6 535.8,911.6 537.1,911.6 538.5,911.7 539.9,911.7 541.2,911.7 542.6,911.7 544.0,911.7 545.4,911.7 546.7,911.7 548.1,911.7 549.5,911.7 550.9,911.7 552.2,911.7 553.6,911.7 555.0,911.7 556.4,911.7 557.7,911.7 559.1,911.7 560.5,911.7 561.9,911.7 563.2,911.7 564.6,911.7 566.0,911.7 567.4,911.7 568.7,911.7 570.1,911.7 571.5,911.7 572.8,911.7 574.2,911.7 575.6,911.7 577.0,911.7 578.3,911.7 579.7,911.7 581.1,911.7 582.5,911.7 583.8,911.7 585.2,911.7 586.6,911.7 588.0,911.7 589.3,911.7 590.7,911.7 592.1,911.7 593.5,911.7 594.8,911.7 596.2,911.7 597.6,911.7 598.9,911.7 600.3,911.7 601.7,911.7 603.1,911.7 604.4,911.7 605.8,911.7 607.2,911.7 608.6,911.7 609.9,911.7 611.3,911.7 612.7,911.7 614.1,911.7 615.4,911.7 616.8,911.7 618.2,911.7 619.6,911.7 620.9,911.7 622.3,911.7" fill="none" stroke="#000" stroke-width="3.0" stroke-linejoin="round"/>
</g>
<path d="M219.78 935.30L219.78 927.30" stroke="#000" stroke-width="3.00"/>
<path d="M219.78 571.60L219.78 579.60" stroke="#000" stroke-width="3.00"/>
<path d="M357.16 935.30L357.16 927.30" stroke="#000" stroke-width="3.00"/>
<path d="M357.16 571.60L357.16 579.60" stroke="#000" stroke-width="3.00"/>
<path d="M494.54 935.30L494.54 927.30" stroke="#000" stroke-width="3.00"/>
<path d="M494.54 571.60L494.54 579.60" stroke="#000" stroke-width="3.00"/>
<path d="M631.92 935.30L631.92 927.30" stroke="#000" stroke-width="3.00"/>
<path d="M631.92 571.60L631.92 579.60" stroke="#000" stroke-width="3.00"/>
<path d="M109.88 935.30L109.88 930.50" stroke="#000" stroke-width="3.00"/>
<path d="M109.88 571.60L109.88 576.40" stroke="#000" stroke-width="3.00"/>
<path d="M137.35 935.30L137.35 930.50" stroke="#000" stroke-width="3.00"/>
<path d="M137.35 571.60L137.35 576.40" stroke="#000" stroke-width="3.00"/>
<path d="M164.83 935.30L164.83 930.50" stroke="#000" stroke-width="3.00"/>
<path d="M164.83 571.60L164.83 576.40" stroke="#000" stroke-width="3.00"/>
<path d="M192.30 935.30L192.30 930.50" stroke="#000" stroke-width="3.00"/>
<path d="M192.30 571.60L192.30 576.40" stroke="#000" stroke-width="3.00"/>
<path d="M247.26 935.30L247.26 930.50" stroke="#000" stroke-width="3.00"/>
<path d="M247.26 571.60L247.26 576.40" stroke="#000" stroke-width="3.00"/>
<path d="M274.73 935.30L274.73 930.50" stroke="#000" stroke-width="3.00"/>
<path d="M274.73 571.60L274.73 576.40" stroke="#000" stroke-width="3.00"/>
<path d="M302.21 935.30L302.21 930.50" stroke="#000" stroke-width="3.00"/>
<path d="M302.21 571.60L302.21 576.40" stroke="#000" stroke-width="3.00"/>
<path d="M329.68 935.30L329.68 930.50" stroke="#000" stroke-width="3.00"/>
<path d="M329.68 571.60L329.68 576.40" stroke="#000" stroke-width="3.00"/>
<path d="M384.64 935.30L384.64 930.50" stroke="#000" stroke-width="3.00"/>
<path d="M384.64 571.60L384.64 576.40" stroke="#000" stroke-width="3.00"/>
<path d="M412.11 935.30L412.11 930.50" stroke="#000" stroke-width="3.00"/>
<path d="M412.11 571.60L412.11 576.40" stroke="#000" stroke-width="3.00"/>
<path d="M439.59 935.30L439.59 930.50" stroke="#000" stroke-width="3.00"/>
<path d="M439.59 571.60L439.59 576.40" stroke="#000" stroke-width="3.00"/>
<path d="M467.06 935.30L467.06 930.50" stroke="#000" stroke-width="3.00"/>
<path d="M467.06 571.60L467.06 576.40" stroke="#000" stroke-width="3.00"/>
<path d="M522.02 935.30L522.02 930.50" stroke="#000" stroke-width="3.00"/>
<path d="M522.02 571.60L522.02 576.40" stroke="#000" stroke-width="3.00"/>
<path d="M549.49 935.30L549.49 930.50" stroke="#000" stroke-width="3.00"/>
<path d="M549.49 571.60L549.49 576.40" stroke="#000" stroke-width="3.00"/>
<path d="M576.97 935.30L576.97 930.50" stroke="#000" stroke-width="3.00"/>
<path d="M576.97 571.60L576.97 576.40" stroke="#000" stroke-width="3.00"/>
<path d="M604.44 935.30L604.44 930.50" stroke="#000" stroke-width="3.00"/>
<path d="M604.44 571.60L604.44 576.40" stroke="#000" stroke-width="3.00"/>
<path d="M659.40 935.30L659.40 930.50" stroke="#000" stroke-width="3.00"/>
<path d="M659.40 571.60L659.40 576.40" stroke="#000" stroke-width="3.00"/>
<path d="M686.87 935.30L686.87 930.50" stroke="#000" stroke-width="3.00"/>
<path d="M686.87 571.60L686.87 576.40" stroke="#000" stroke-width="3.00"/>
<path d="M714.35 935.30L714.35 930.50" stroke="#000" stroke-width="3.00"/>
<path d="M714.35 571.60L714.35 576.40" stroke="#000" stroke-width="3.00"/>
<path d="M741.82 935.30L741.82 930.50" stroke="#000" stroke-width="3.00"/>
<path d="M741.82 571.60L741.82 576.40" stroke="#000" stroke-width="3.00"/>
<path d="M82.40 814.07L90.40 814.07" stroke="#000" stroke-width="3.00"/>
<path d="M769.30 814.07L761.30 814.07" stroke="#000" stroke-width="3.00"/>
<path d="M82.40 692.83L90.40 692.83" stroke="#000" stroke-width="3.00"/>
<path d="M769.30 692.83L761.30 692.83" stroke="#000" stroke-width="3.00"/>
<path d="M82.40 911.05L87.20 911.05" stroke="#000" stroke-width="3.00"/>
<path d="M769.30 911.05L764.50 911.05" stroke="#000" stroke-width="3.00"/>
<path d="M82.40 886.81L87.20 886.81" stroke="#000" stroke-width="3.00"/>
<path d="M769.30 886.81L764.50 886.81" stroke="#000" stroke-width="3.00"/>
<path d="M82.40 862.56L87.20 862.56" stroke="#000" stroke-width="3.00"/>
<path d="M769.30 862.56L764.50 862.56" stroke="#000" stroke-width="3.00"/>
<path d="M82.40 838.31L87.20 838.31" stroke="#000" stroke-width="3.00"/>
<path d="M769.30 838.31L764.50 838.31" stroke="#000" stroke-width="3.00"/>
<path d="M82.40 789.82L87.20 789.82" stroke="#000" stroke-width="3.00"/>
<path d="M769.30 789.82L764.50 789.82" stroke="#000" stroke-width="3.00"/>
<path d="M82.40 765.57L87.20 765.57" stroke="#000" stroke-width="3.00"/>
<path d="M769.30 765.57L764.50 765.57" stroke="#000" stroke-width="3.00"/>
<path d="M82.40 741.33L87.20 741.33" stroke="#000" stroke-width="3.00"/>
<path d="M769.30 741.33L764.50 741.33" stroke="#000" stroke-width="3.00"/>
<path d="M82.40 717.08L87.20 717.08" stroke="#000" stroke-width="3.00"/>
<path d="M769.30 717.08L764.50 717.08" stroke="#000" stroke-width="3.00"/>
<path d="M82.40 668.59L87.20 668.59" stroke="#000" stroke-width="3.00"/>
<path d="M769.30 668.59L764.50 668.59" stroke="#000" stroke-width="3.00"/>
<path d="M82.40 644.34L87.20 644.34" stroke="#000" stroke-width="3.00"/>
<path d="M769.30 644.34L764.50 644.34" stroke="#000" stroke-width="3.00"/>
<path d="M82.40 620.09L87.20 620.09" stroke="#000" stroke-width="3.00"/>
<path d="M769.30 620.09L764.50 620.09" stroke="#000" stroke-width="3.00"/>
<path d="M82.40 595.85L87.20 595.85" stroke="#000" stroke-width="3.00"/>
<path d="M769.30 595.85L764.50 595.85" stroke="#000" stroke-width="3.00"/>
<rect x="82.40" y="571.60" width="686.90" height="363.70" fill="none" stroke="#000" stroke-width="3.2"/>
<text transform="translate(69.20,945.30) scale(1.000,1)" text-anchor="end" font-size="29.2">0</text>
<text transform="translate(69.20,824.07) scale(1.000,1)" text-anchor="end" font-size="29.2">1</text>
<text transform="translate(69.20,702.83) scale(1.000,1)" text-anchor="end" font-size="29.2">2</text>
<text transform="translate(69.20,581.60) scale(1.000,1)" text-anchor="end" font-size="29.2">3</text>
<text transform="translate(81.00,971.30) scale(1.000,1)" text-anchor="middle" font-size="29.2">0</text>
<text transform="translate(218.38,971.30) scale(1.000,1)" text-anchor="middle" font-size="29.2">10</text>
<text transform="translate(355.76,971.30) scale(1.000,1)" text-anchor="middle" font-size="29.2">20</text>
<text transform="translate(493.14,971.30) scale(1.000,1)" text-anchor="middle" font-size="29.2">30</text>
<text transform="translate(630.52,971.30) scale(1.000,1)" text-anchor="middle" font-size="29.2">40</text>
<text transform="translate(767.90,971.30) scale(1.000,1)" text-anchor="middle" font-size="29.2">50</text>
<text transform="translate(426.00,1013.00) scale(1.000,1)" text-anchor="middle" font-size="29.2">Time (ps)</text>
<text transform="translate(24.60,754.00) rotate(-90) scale(1.000,1)" text-anchor="middle" font-size="29.2">Voltage (V)</text>
<text transform="translate(0.70,570.00) scale(1.000,1)" text-anchor="start" font-size="41.5" font-weight="bold">d</text>
<path d="M282.30 613.70L343.00 613.70" stroke="#000" stroke-width="3.00"/>
<text transform="translate(355.6,622.2) scale(1.000,1)" font-size="24.9">Sech<tspan font-size="17" dy="-11.5">2</tspan><tspan dy="11.5"> fitted pulse width: 1.7 ps</tspan></text>
<clipPath id="ce"><rect x="976.60" y="571.60" width="684.60" height="365.30"/></clipPath>
<path d="M1089.63 935.30L1089.63 927.30" stroke="#000" stroke-width="3.00"/>
<path d="M1089.63 571.60L1089.63 579.60" stroke="#000" stroke-width="3.00"/>
<path d="M1204.27 935.30L1204.27 927.30" stroke="#000" stroke-width="3.00"/>
<path d="M1204.27 571.60L1204.27 579.60" stroke="#000" stroke-width="3.00"/>
<path d="M1318.90 935.30L1318.90 927.30" stroke="#000" stroke-width="3.00"/>
<path d="M1318.90 571.60L1318.90 579.60" stroke="#000" stroke-width="3.00"/>
<path d="M1433.53 935.30L1433.53 927.30" stroke="#000" stroke-width="3.00"/>
<path d="M1433.53 571.60L1433.53 579.60" stroke="#000" stroke-width="3.00"/>
<path d="M1548.17 935.30L1548.17 927.30" stroke="#000" stroke-width="3.00"/>
<path d="M1548.17 571.60L1548.17 579.60" stroke="#000" stroke-width="3.00"/>
<path d="M997.93 935.30L997.93 930.50" stroke="#000" stroke-width="3.00"/>
<path d="M997.93 571.60L997.93 576.40" stroke="#000" stroke-width="3.00"/>
<path d="M1020.85 935.30L1020.85 930.50" stroke="#000" stroke-width="3.00"/>
<path d="M1020.85 571.60L1020.85 576.40" stroke="#000" stroke-width="3.00"/>
<path d="M1043.78 935.30L1043.78 930.50" stroke="#000" stroke-width="3.00"/>
<path d="M1043.78 571.60L1043.78 576.40" stroke="#000" stroke-width="3.00"/>
<path d="M1066.71 935.30L1066.71 930.50" stroke="#000" stroke-width="3.00"/>
<path d="M1066.71 571.60L1066.71 576.40" stroke="#000" stroke-width="3.00"/>
<path d="M1112.56 935.30L1112.56 930.50" stroke="#000" stroke-width="3.00"/>
<path d="M1112.56 571.60L1112.56 576.40" stroke="#000" stroke-width="3.00"/>
<path d="M1135.49 935.30L1135.49 930.50" stroke="#000" stroke-width="3.00"/>
<path d="M1135.49 571.60L1135.49 576.40" stroke="#000" stroke-width="3.00"/>
<path d="M1158.41 935.30L1158.41 930.50" stroke="#000" stroke-width="3.00"/>
<path d="M1158.41 571.60L1158.41 576.40" stroke="#000" stroke-width="3.00"/>
<path d="M1181.34 935.30L1181.34 930.50" stroke="#000" stroke-width="3.00"/>
<path d="M1181.34 571.60L1181.34 576.40" stroke="#000" stroke-width="3.00"/>
<path d="M1227.19 935.30L1227.19 930.50" stroke="#000" stroke-width="3.00"/>
<path d="M1227.19 571.60L1227.19 576.40" stroke="#000" stroke-width="3.00"/>
<path d="M1250.12 935.30L1250.12 930.50" stroke="#000" stroke-width="3.00"/>
<path d="M1250.12 571.60L1250.12 576.40" stroke="#000" stroke-width="3.00"/>
<path d="M1273.05 935.30L1273.05 930.50" stroke="#000" stroke-width="3.00"/>
<path d="M1273.05 571.60L1273.05 576.40" stroke="#000" stroke-width="3.00"/>
<path d="M1295.97 935.30L1295.97 930.50" stroke="#000" stroke-width="3.00"/>
<path d="M1295.97 571.60L1295.97 576.40" stroke="#000" stroke-width="3.00"/>
<path d="M1341.83 935.30L1341.83 930.50" stroke="#000" stroke-width="3.00"/>
<path d="M1341.83 571.60L1341.83 576.40" stroke="#000" stroke-width="3.00"/>
<path d="M1364.75 935.30L1364.75 930.50" stroke="#000" stroke-width="3.00"/>
<path d="M1364.75 571.60L1364.75 576.40" stroke="#000" stroke-width="3.00"/>
<path d="M1387.68 935.30L1387.68 930.50" stroke="#000" stroke-width="3.00"/>
<path d="M1387.68 571.60L1387.68 576.40" stroke="#000" stroke-width="3.00"/>
<path d="M1410.61 935.30L1410.61 930.50" stroke="#000" stroke-width="3.00"/>
<path d="M1410.61 571.60L1410.61 576.40" stroke="#000" stroke-width="3.00"/>
<path d="M1456.46 935.30L1456.46 930.50" stroke="#000" stroke-width="3.00"/>
<path d="M1456.46 571.60L1456.46 576.40" stroke="#000" stroke-width="3.00"/>
<path d="M1479.39 935.30L1479.39 930.50" stroke="#000" stroke-width="3.00"/>
<path d="M1479.39 571.60L1479.39 576.40" stroke="#000" stroke-width="3.00"/>
<path d="M1502.31 935.30L1502.31 930.50" stroke="#000" stroke-width="3.00"/>
<path d="M1502.31 571.60L1502.31 576.40" stroke="#000" stroke-width="3.00"/>
<path d="M1525.24 935.30L1525.24 930.50" stroke="#000" stroke-width="3.00"/>
<path d="M1525.24 571.60L1525.24 576.40" stroke="#000" stroke-width="3.00"/>
<path d="M1571.09 935.30L1571.09 930.50" stroke="#000" stroke-width="3.00"/>
<path d="M1571.09 571.60L1571.09 576.40" stroke="#000" stroke-width="3.00"/>
<path d="M1594.02 935.30L1594.02 930.50" stroke="#000" stroke-width="3.00"/>
<path d="M1594.02 571.60L1594.02 576.40" stroke="#000" stroke-width="3.00"/>
<path d="M1616.95 935.30L1616.95 930.50" stroke="#000" stroke-width="3.00"/>
<path d="M1616.95 571.60L1616.95 576.40" stroke="#000" stroke-width="3.00"/>
<path d="M1639.87 935.30L1639.87 930.50" stroke="#000" stroke-width="3.00"/>
<path d="M1639.87 571.60L1639.87 576.40" stroke="#000" stroke-width="3.00"/>
<path d="M975.00 607.70L983.00 607.70" stroke="#000" stroke-width="3.00"/>
<path d="M1662.80 607.70L1654.80 607.70" stroke="#000" stroke-width="3.00"/>
<path d="M975.00 680.45L983.00 680.45" stroke="#000" stroke-width="3.00"/>
<path d="M1662.80 680.45L1654.80 680.45" stroke="#000" stroke-width="3.00"/>
<path d="M975.00 753.20L983.00 753.20" stroke="#000" stroke-width="3.00"/>
<path d="M1662.80 753.20L1654.80 753.20" stroke="#000" stroke-width="3.00"/>
<path d="M975.00 825.95L983.00 825.95" stroke="#000" stroke-width="3.00"/>
<path d="M1662.80 825.95L1654.80 825.95" stroke="#000" stroke-width="3.00"/>
<path d="M975.00 898.70L983.00 898.70" stroke="#000" stroke-width="3.00"/>
<path d="M1662.80 898.70L1654.80 898.70" stroke="#000" stroke-width="3.00"/>
<path d="M975.00 927.80L979.80 927.80" stroke="#000" stroke-width="3.00"/>
<path d="M1662.80 927.80L1658.00 927.80" stroke="#000" stroke-width="3.00"/>
<path d="M975.00 913.25L979.80 913.25" stroke="#000" stroke-width="3.00"/>
<path d="M1662.80 913.25L1658.00 913.25" stroke="#000" stroke-width="3.00"/>
<path d="M975.00 884.15L979.80 884.15" stroke="#000" stroke-width="3.00"/>
<path d="M1662.80 884.15L1658.00 884.15" stroke="#000" stroke-width="3.00"/>
<path d="M975.00 869.60L979.80 869.60" stroke="#000" stroke-width="3.00"/>
<path d="M1662.80 869.60L1658.00 869.60" stroke="#000" stroke-width="3.00"/>
<path d="M975.00 855.05L979.80 855.05" stroke="#000" stroke-width="3.00"/>
<path d="M1662.80 855.05L1658.00 855.05" stroke="#000" stroke-width="3.00"/>
<path d="M975.00 840.50L979.80 840.50" stroke="#000" stroke-width="3.00"/>
<path d="M1662.80 840.50L1658.00 840.50" stroke="#000" stroke-width="3.00"/>
<path d="M975.00 811.40L979.80 811.40" stroke="#000" stroke-width="3.00"/>
<path d="M1662.80 811.40L1658.00 811.40" stroke="#000" stroke-width="3.00"/>
<path d="M975.00 796.85L979.80 796.85" stroke="#000" stroke-width="3.00"/>
<path d="M1662.80 796.85L1658.00 796.85" stroke="#000" stroke-width="3.00"/>
<path d="M975.00 782.30L979.80 782.30" stroke="#000" stroke-width="3.00"/>
<path d="M1662.80 782.30L1658.00 782.30" stroke="#000" stroke-width="3.00"/>
<path d="M975.00 767.75L979.80 767.75" stroke="#000" stroke-width="3.00"/>
<path d="M1662.80 767.75L1658.00 767.75" stroke="#000" stroke-width="3.00"/>
<path d="M975.00 738.65L979.80 738.65" stroke="#000" stroke-width="3.00"/>
<path d="M1662.80 738.65L1658.00 738.65" stroke="#000" stroke-width="3.00"/>
<path d="M975.00 724.10L979.80 724.10" stroke="#000" stroke-width="3.00"/>
<path d="M1662.80 724.10L1658.00 724.10" stroke="#000" stroke-width="3.00"/>
<path d="M975.00 709.55L979.80 709.55" stroke="#000" stroke-width="3.00"/>
<path d="M1662.80 709.55L1658.00 709.55" stroke="#000" stroke-width="3.00"/>
<path d="M975.00 695.00L979.80 695.00" stroke="#000" stroke-width="3.00"/>
<path d="M1662.80 695.00L1658.00 695.00" stroke="#000" stroke-width="3.00"/>
<path d="M975.00 665.90L979.80 665.90" stroke="#000" stroke-width="3.00"/>
<path d="M1662.80 665.90L1658.00 665.90" stroke="#000" stroke-width="3.00"/>
<path d="M975.00 651.35L979.80 651.35" stroke="#000" stroke-width="3.00"/>
<path d="M1662.80 651.35L1658.00 651.35" stroke="#000" stroke-width="3.00"/>
<path d="M975.00 636.80L979.80 636.80" stroke="#000" stroke-width="3.00"/>
<path d="M1662.80 636.80L1658.00 636.80" stroke="#000" stroke-width="3.00"/>
<path d="M975.00 622.25L979.80 622.25" stroke="#000" stroke-width="3.00"/>
<path d="M1662.80 622.25L1658.00 622.25" stroke="#000" stroke-width="3.00"/>
<path d="M975.00 593.15L979.80 593.15" stroke="#000" stroke-width="3.00"/>
<path d="M1662.80 593.15L1658.00 593.15" stroke="#000" stroke-width="3.00"/>
<path d="M975.00 578.60L979.80 578.60" stroke="#000" stroke-width="3.00"/>
<path d="M1662.80 578.60L1658.00 578.60" stroke="#000" stroke-width="3.00"/>
<rect x="975.00" y="571.60" width="687.80" height="363.70" fill="none" stroke="#000" stroke-width="3.2"/>
<g clip-path="url(#ce)">
<polygon points="971.2,1435.3 971.20,821.0 971.76,882.8 974.36,882.8 974.93,820.7 976.77,1019.8 978.65,816.2 980.51,999.5 982.37,817.3 984.21,1030.4 986.09,813.1 987.95,1061.2 989.81,812.2 991.68,1037.2 993.54,812.5 995.38,1047.6 997.26,809.3 997.70,865.7 1000.56,865.7 1000.98,810.9 1001.67,881.0 1003.99,881.0 1004.70,808.6 1006.57,998.4 1008.42,810.7 1010.29,1079.9 1012.15,810.8 1014.00,1021.2 1015.87,809.3 1017.72,1052.9 1019.59,807.5 1021.48,989.5 1023.31,813.2 1023.98,884.6 1026.40,884.6 1027.04,815.9 1028.90,1053.9 1030.76,816.9 1032.62,1091.8 1034.48,818.3 1036.36,1048.5 1038.20,822.4 1040.07,1061.0 1041.92,825.2 1043.79,1089.7 1045.65,825.3 1047.54,1070.7 1049.37,833.6 1051.22,1133.2 1053.09,831.4 1054.96,1124.7 1056.81,835.5 1058.69,1039.1 1060.53,839.7 1062.41,1142.6 1064.26,843.7 1064.83,900.6 1067.43,900.6 1067.98,846.2 1068.41,886.1 1071.28,886.1 1071.70,847.0 1073.58,1110.2 1075.42,851.3 1075.85,918.2 1078.71,918.2 1079.15,849.8 1079.68,924.8 1082.33,924.8 1082.87,850.1 1083.36,930.2 1086.13,930.2 1086.59,854.5 1088.46,1077.2 1090.31,856.6 1092.18,1166.1 1094.03,860.2 1095.90,1047.6 1097.76,860.7 1099.61,1098.2 1101.48,858.2 1103.32,1048.4 1105.20,854.1 1105.62,915.0 1108.51,915.0 1108.92,854.7 1109.32,902.9 1112.21,902.9 1112.64,849.5 1114.52,1105.4 1116.37,852.4 1118.19,1022.4 1120.09,846.3 1121.96,1126.7 1123.81,850.4 1124.16,883.9 1127.09,883.9 1127.53,841.2 1127.83,885.3 1130.99,885.3 1131.26,845.3 1133.10,1068.3 1134.98,841.0 1135.26,884.5 1138.42,884.5 1138.70,842.2 1140.54,1136.2 1142.42,835.2 1142.70,874.8 1145.88,874.8 1146.14,836.6 1147.97,1094.9 1149.87,825.7 1151.78,1005.2 1153.59,836.2 1155.31,1073.3 1157.31,798.3 1159.36,992.0 1161.03,833.9 1161.07,850.1 1161.16,867.3 1161.35,891.7 1161.66,921.5 1161.98,945.6 1162.29,966.7 1162.91,935.2 1162.9,1435.3" fill="#262a52"/>
<polygon points="1393.5,1435.3 1393.49,948.0 1394.17,903.0 1394.85,847.5 1395.26,805.5 1395.45,776.0 1395.53,748.1 1395.61,776.3 1395.80,806.1 1396.22,848.6 1396.91,908.4 1397.60,958.0 1398.29,1001.3 1398.53,978.4 1398.77,952.1 1399.01,919.6 1399.15,893.0 1399.22,874.3 1399.25,856.6 1399.29,874.9 1399.37,894.3 1399.54,922.0 1399.84,955.7 1400.13,982.9 1400.43,1006.7 1401.06,968.9 1401.70,925.5 1402.34,871.9 1402.72,830.2 1402.90,801.8 1402.97,775.0 1405.29,979.3 1406.69,856.3 1408.37,1101.7 1410.42,802.7 1412.52,1047.7 1414.14,859.7 1415.87,1046.2 1417.86,831.0 1419.86,1078.3 1421.58,865.5 1423.39,1139.1 1425.30,850.7 1427.25,1050.5 1429.03,868.1 1430.87,1038.5 1432.75,864.5 1434.65,1095.9 1436.47,874.3 1438.31,1059.6 1440.19,870.6 1442.09,1043.1 1443.92,876.5 1445.78,1053.4 1445.8,1435.3" fill="#262a52"/>
<polyline points="971.20,821.0 971.76,882.8 974.36,882.8 974.93,820.7 976.77,1019.8 978.65,816.2 980.51,999.5 982.37,817.3 984.21,1030.4 986.09,813.1 987.95,1061.2 989.81,812.2 991.68,1037.2 993.54,812.5 995.38,1047.6 997.26,809.3 997.70,865.7 1000.56,865.7 1000.98,810.9 1001.67,881.0 1003.99,881.0 1004.70,808.6 1006.57,998.4 1008.42,810.7 1010.29,1079.9 1012.15,810.8 1014.00,1021.2 1015.87,809.3 1017.72,1052.9 1019.59,807.5 1021.48,989.5 1023.31,813.2 1023.98,884.6 1026.40,884.6 1027.04,815.9 1028.90,1053.9 1030.76,816.9 1032.62,1091.8 1034.48,818.3 1036.36,1048.5 1038.20,822.4 1040.07,1061.0 1041.92,825.2 1043.79,1089.7 1045.65,825.3 1047.54,1070.7 1049.37,833.6 1051.22,1133.2 1053.09,831.4 1054.96,1124.7 1056.81,835.5 1058.69,1039.1 1060.53,839.7 1062.41,1142.6 1064.26,843.7 1064.83,900.6 1067.43,900.6 1067.98,846.2 1068.41,886.1 1071.28,886.1 1071.70,847.0 1073.58,1110.2 1075.42,851.3 1075.85,918.2 1078.71,918.2 1079.15,849.8 1079.68,924.8 1082.33,924.8 1082.87,850.1 1083.36,930.2 1086.13,930.2 1086.59,854.5 1088.46,1077.2 1090.31,856.6 1092.18,1166.1 1094.03,860.2 1095.90,1047.6 1097.76,860.7 1099.61,1098.2 1101.48,858.2 1103.32,1048.4 1105.20,854.1 1105.62,915.0 1108.51,915.0 1108.92,854.7 1109.32,902.9 1112.21,902.9 1112.64,849.5 1114.52,1105.4 1116.37,852.4 1118.19,1022.4 1120.09,846.3 1121.96,1126.7 1123.81,850.4 1124.16,883.9 1127.09,883.9 1127.53,841.2 1127.83,885.3 1130.99,885.3 1131.26,845.3 1133.10,1068.3 1134.98,841.0 1135.26,884.5 1138.42,884.5 1138.70,842.2 1140.54,1136.2 1142.42,835.2 1142.70,874.8 1145.88,874.8 1146.14,836.6 1147.97,1094.9 1149.87,825.7 1151.78,1005.2 1153.59,836.2 1155.31,1073.3 1157.31,798.3 1159.36,992.0 1161.03,833.9 1161.07,850.1 1161.16,867.3" fill="none" stroke="#23274f" stroke-width="2.4" stroke-linejoin="miter" stroke-miterlimit="8"/>
<polyline points="1161.03,833.9 1161.07,850.1 1161.16,867.3 1161.35,891.7 1161.66,921.5 1161.98,945.6 1162.29,966.7 1162.91,935.2 1163.52,899.2 1164.14,854.6 1164.51,816.8 1164.68,788.9 1164.75,762.7 1164.83,788.6 1165.00,816.0 1165.36,849.3 1165.96,887.0 1166.56,917.5 1167.16,944.2 1167.49,925.6 1167.82,904.3 1168.15,878.1 1168.35,856.5 1168.44,841.4 1168.48,827.1 1168.51,840.7 1168.59,855.0 1168.75,875.4 1169.03,900.3 1169.30,920.4 1169.58,938.0 1170.23,908.4 1170.89,874.6 1171.54,832.7 1171.94,792.6 1172.12,763.7 1172.20,736.5 1172.28,763.6 1172.46,792.4 1172.85,831.3 1173.50,869.1 1174.15,899.7 1174.80,926.3 1175.08,910.3 1175.36,891.8 1175.64,869.1 1175.81,850.4 1175.89,837.3 1175.92,824.9 1175.95,836.9 1176.02,849.7 1176.16,867.8 1176.39,889.8 1176.63,907.7 1176.86,923.3 1177.56,893.4 1178.25,859.1 1178.95,814.8 1179.37,772.1 1179.56,742.2 1179.64,713.9 1179.73,742.0 1179.92,771.7 1180.33,814.0 1181.02,855.4 1181.70,887.7 1182.39,915.9 1182.63,900.8 1182.88,883.5 1183.12,862.0 1183.27,844.5 1183.34,832.1 1183.37,820.5 1183.39,831.9 1183.45,843.9 1183.57,861.1 1183.78,882.1 1183.99,899.0 1184.20,913.8 1184.92,882.6 1185.64,846.8 1186.37,798.9 1186.80,755.3 1187.00,724.6 1187.09,695.7 1187.17,724.5 1187.37,755.0 1187.80,798.4 1188.52,844.1 1189.24,877.8 1189.95,907.2 1190.17,893.0 1190.38,876.7 1190.60,856.5 1190.72,840.0 1190.78,828.4 1190.81,817.4 1190.83,828.2 1190.88,839.5 1190.99,855.8 1191.18,875.5 1191.36,891.5 1191.55,905.5 1192.30,873.3 1193.04,836.3 1193.79,785.6 1194.23,741.1 1194.44,709.9 1194.53,680.5 1194.62,709.8 1194.83,740.9 1195.27,785.3 1196.01,834.4 1196.76,869.2 1197.50,899.6 1197.69,886.2 1197.88,870.9 1198.07,851.9 1198.18,836.4 1198.23,825.5 1198.25,815.2 1198.27,825.4 1198.32,836.1 1198.42,851.4 1198.59,870.1 1198.76,885.2 1198.92,898.4 1199.69,865.6 1200.45,828.1 1201.21,775.5 1201.67,730.4 1201.88,698.7 1201.98,668.8 1202.07,698.5 1202.28,729.9 1202.73,774.7 1203.49,826.0 1204.24,862.5 1204.99,894.2 1205.17,881.0 1205.35,865.8 1205.52,847.0 1205.63,831.6 1205.68,820.8 1205.70,810.6 1205.72,820.7 1205.76,831.4 1205.86,846.7 1206.02,865.3 1206.18,880.4 1206.34,893.5 1207.11,860.0 1207.88,821.5 1208.65,768.0 1209.11,722.6 1209.33,690.8 1209.42,660.8 1209.51,690.8 1209.73,722.5 1210.19,767.8 1210.95,820.6 1211.72,857.7 1212.49,890.0 1212.65,877.3 1212.82,862.6 1212.98,844.5 1213.08,829.6 1213.12,819.2 1213.14,809.4 1213.16,819.1 1213.20,829.4 1213.28,844.1 1213.42,862.0 1213.56,876.6 1213.70,889.2 1214.49,853.5 1215.28,812.5 1216.07,756.6 1216.55,710.6 1216.77,678.2 1216.86,647.7 1216.96,678.1 1217.18,710.2 1217.65,756.0 1218.43,810.9 1219.21,850.2 1220.00,884.5 1220.14,871.9 1220.29,857.5 1220.44,839.6 1220.53,825.0 1220.57,814.7 1220.59,805.0 1220.60,814.6 1220.64,824.7 1220.71,839.2 1220.84,856.9 1220.97,871.2 1221.09,883.6 1221.90,845.7 1222.70,802.2 1223.50,745.4 1223.99,698.9 1224.21,666.2 1224.31,635.3 1224.41,666.2 1224.63,698.8 1225.11,745.4 1225.92,802.1 1226.72,843.7 1227.52,879.7 1227.65,867.8 1227.78,854.2 1227.90,837.3 1227.98,823.5 1228.02,813.8 1228.03,804.7 1228.05,813.8 1228.08,823.5 1228.15,837.2 1228.26,854.0 1228.38,867.5 1228.49,879.4 1229.31,841.2 1230.12,796.9 1230.94,739.7 1231.43,692.8 1231.66,659.9 1231.75,628.8 1231.85,659.9 1232.08,692.8 1232.57,739.6 1233.38,796.8 1234.19,840.1 1235.01,877.3 1235.13,865.7 1235.24,852.4 1235.36,835.9 1235.43,822.4 1235.46,813.0 1235.48,804.0 1235.49,812.9 1235.52,822.4 1235.58,835.8 1235.69,852.2 1235.79,865.5 1235.90,877.0 1236.72,837.4 1237.55,791.6 1238.37,734.0 1238.87,686.7 1239.10,653.6 1239.20,622.2 1239.30,653.5 1239.53,686.6 1240.02,733.7 1240.84,791.2 1241.66,836.3 1242.48,875.2 1242.59,863.6 1242.70,850.3 1242.81,833.9 1242.88,820.4 1242.91,811.0 1242.92,802.1 1242.93,811.0 1242.96,820.4 1243.02,833.8 1243.13,850.2 1243.23,863.5 1243.33,875.0 1244.16,834.7 1244.99,788.3 1245.81,730.6 1246.31,683.2 1246.54,650.0 1246.64,618.6 1246.74,650.1 1246.98,683.5 1247.47,731.0 1248.31,788.9 1249.14,834.7 1249.97,874.0 1250.07,863.1 1250.17,850.6 1250.27,835.2 1250.32,822.5 1250.35,813.6 1250.36,805.2 1250.38,813.6 1250.40,822.5 1250.46,835.1 1250.55,850.5 1250.65,863.0 1250.74,873.9 1251.58,833.6 1252.41,787.2 1253.25,729.1 1253.75,681.4 1253.99,648.0 1254.09,616.4 1254.19,648.0 1254.42,681.3 1254.92,728.9 1255.75,786.9 1256.59,833.1 1257.42,873.1 1257.52,862.1 1257.62,849.6 1257.71,834.1 1257.77,821.3 1257.80,812.4 1257.81,804.0 1257.82,812.4 1257.85,821.3 1257.90,834.0 1258.00,849.5 1258.09,862.1 1258.19,873.0 1259.02,832.6 1259.86,786.1 1260.69,728.0 1261.20,680.3 1261.43,646.9 1261.53,615.3 1261.63,647.0 1261.87,680.5 1262.37,728.2 1263.21,786.4 1264.05,832.7 1264.88,872.6 1264.98,862.0 1265.07,849.9 1265.16,834.9 1265.22,822.6 1265.24,813.9 1265.25,805.8 1265.26,813.9 1265.29,822.5 1265.34,834.8 1265.43,849.9 1265.52,862.0 1265.61,872.6 1266.45,831.8 1267.29,784.9 1268.13,726.6 1268.64,678.8 1268.87,645.2 1268.97,613.5 1269.08,645.3 1269.31,679.0 1269.82,726.9 1270.67,785.4 1271.51,832.0 1272.36,872.2 1272.44,862.0 1272.53,850.4 1272.61,836.1 1272.66,824.3 1272.69,816.0 1272.70,808.2 1272.71,816.0 1272.73,824.3 1272.78,836.0 1272.86,850.4 1272.94,862.0 1273.02,872.1 1273.87,830.6 1274.72,783.0 1275.57,724.4 1276.08,676.3 1276.32,642.5 1276.42,610.6 1276.52,642.4 1276.76,676.1 1277.27,724.1 1278.11,782.6 1278.96,830.9 1279.80,873.8 1279.89,863.0 1279.97,850.7 1280.06,835.5 1280.11,823.1 1280.13,814.3 1280.14,806.1 1280.15,814.3 1280.18,823.1 1280.23,835.6 1280.31,850.8 1280.40,863.2 1280.48,873.9 1281.33,831.3 1282.17,783.2 1283.02,724.7 1283.53,676.8 1283.76,643.1 1283.86,611.3 1283.97,643.2 1284.20,677.0 1284.71,725.2 1285.57,783.9 1286.42,832.3 1287.27,875.5 1287.35,865.1 1287.43,853.2 1287.51,838.5 1287.55,826.4 1287.58,817.9 1287.59,809.9 1287.60,817.9 1287.62,826.4 1287.66,838.5 1287.74,853.3 1287.82,865.2 1287.90,875.6 1288.75,832.0 1289.60,783.3 1290.46,724.6 1290.97,676.4 1291.21,642.5 1291.31,610.6 1291.41,642.5 1291.65,676.2 1292.16,724.3 1293.01,783.0 1293.86,832.2 1294.70,876.8 1294.79,865.9 1294.87,853.4 1294.95,837.9 1295.00,825.2 1295.02,816.3 1295.03,807.9 1295.04,816.3 1295.06,825.2 1295.11,837.9 1295.19,853.4 1295.26,866.0 1295.34,876.9 1296.19,831.0 1297.05,781.2 1297.90,722.4 1298.41,674.2 1298.65,640.4 1298.75,608.4 1298.86,640.5 1299.10,674.5 1299.61,722.9 1300.47,781.9 1301.33,831.7 1302.18,878.1 1302.26,867.6 1302.33,855.5 1302.40,840.6 1302.45,828.3 1302.47,819.8 1302.47,811.6 1302.48,819.8 1302.50,828.4 1302.55,840.6 1302.62,855.6 1302.69,867.7 1302.77,878.2 1303.63,832.2 1304.48,782.5 1305.34,723.5 1305.85,675.1 1306.09,641.2 1306.20,609.2 1306.30,641.2 1306.54,675.1 1307.05,723.4 1307.91,782.4 1308.76,832.4 1309.62,879.1 1309.70,868.3 1309.77,855.9 1309.84,840.7 1309.89,828.2 1309.91,819.4 1309.92,811.1 1309.93,819.4 1309.95,828.2 1309.99,840.7 1310.06,855.9 1310.14,868.3 1310.21,879.1 1311.07,831.5 1311.92,781.2 1312.78,722.1 1313.30,673.7 1313.54,639.8 1313.64,607.7 1313.74,639.8 1313.98,673.9 1314.50,722.4 1315.36,781.5 1316.22,831.6 1317.08,879.1 1317.15,868.6 1317.22,856.5 1317.29,841.7 1317.33,829.5 1317.35,820.9 1317.36,812.8 1317.37,820.9 1317.39,829.5 1317.43,841.7 1317.49,856.5 1317.56,868.6 1317.62,879.1 1318.49,829.6 1319.35,779.1 1320.22,719.8 1320.74,671.1 1320.98,637.0 1321.08,604.8 1321.19,637.2 1321.43,671.4 1321.96,720.3 1322.83,779.8 1323.70,829.9 1324.57,879.1 1324.63,869.3 1324.69,858.1 1324.75,844.2 1324.78,832.8 1324.80,824.9 1324.81,817.3 1324.81,824.9 1324.83,832.8 1324.86,844.2 1324.92,858.1 1324.98,869.3 1325.03,879.1 1325.91,828.2 1326.78,778.0 1327.65,718.3 1328.18,669.4 1328.42,635.0 1328.53,602.6 1328.63,635.0 1328.88,669.4 1329.40,718.3 1330.28,778.0 1331.15,828.3 1332.03,879.9 1332.08,869.9 1332.14,858.6 1332.20,844.5 1332.23,833.0 1332.24,824.9 1332.25,817.3 1332.26,825.0 1332.27,833.1 1332.31,844.6 1332.37,858.7 1332.43,870.1 1332.49,880.1 1333.36,830.1 1334.23,779.8 1335.10,720.3 1335.62,671.4 1335.87,637.2 1335.97,604.8 1336.08,637.3 1336.33,671.8 1336.85,720.9 1337.73,780.8 1338.61,830.8 1339.49,883.6 1339.54,874.0 1339.59,863.1 1339.64,849.6 1339.68,838.5 1339.69,830.8 1339.70,823.4 1339.70,830.8 1339.72,838.6 1339.75,849.7 1339.81,863.3 1339.86,874.2 1339.92,883.8 1340.79,834.1 1341.67,784.2 1342.54,724.5 1343.07,675.6 1343.31,641.2 1343.42,608.8 1343.52,641.3 1343.77,675.7 1344.30,724.8 1345.17,784.6 1346.05,834.8 1346.93,887.5 1346.98,877.8 1347.04,866.7 1347.09,852.9 1347.12,841.6 1347.13,833.7 1347.14,826.2 1347.15,833.7 1347.17,841.7 1347.20,853.0 1347.27,866.8 1347.33,878.0 1347.39,887.7 1348.26,840.7 1349.13,791.0 1349.99,731.6 1350.52,682.9 1350.76,648.7 1350.86,616.4 1350.97,648.8 1351.21,683.0 1351.73,731.9 1352.60,791.4 1353.47,841.6 1354.35,891.1 1354.40,881.2 1354.46,869.8 1354.52,855.7 1354.56,844.2 1354.58,836.1 1354.58,828.5 1354.59,836.2 1354.62,844.4 1354.66,856.0 1354.74,870.2 1354.82,881.7 1354.90,891.7 1355.75,849.5 1356.60,801.6 1357.45,742.8 1357.97,694.6 1358.20,660.7 1358.31,628.8 1358.41,660.9 1358.65,694.9 1359.17,743.4 1360.03,802.4 1360.89,852.4 1361.75,899.4 1361.82,888.9 1361.89,876.8 1361.96,862.0 1362.00,849.8 1362.02,841.2 1362.03,833.1 1362.04,841.3 1362.07,850.0 1362.13,862.4 1362.23,877.5 1362.32,889.7 1362.42,900.4 1363.26,862.1 1364.09,817.2 1364.92,759.3 1365.42,711.8 1365.65,678.5 1365.75,647.0 1365.85,678.6 1366.09,712.1 1366.59,759.8 1367.43,817.9 1368.26,866.9 1369.10,910.7 1369.19,899.0 1369.29,885.6 1369.38,869.0 1369.44,855.5 1369.46,845.9 1369.47,836.9 1369.49,846.1 1369.52,855.9 1369.60,869.7 1369.73,886.7 1369.86,900.4 1369.99,912.3 1370.79,876.8 1371.59,835.9 1372.39,779.3 1372.87,732.9 1373.10,700.3 1373.19,669.5 1373.29,700.5 1373.52,733.2 1374.00,779.9 1374.81,836.8 1375.62,883.7 1376.43,924.7 1376.55,911.5 1376.67,896.4 1376.79,877.6 1376.87,862.3 1376.90,851.5 1376.92,841.4 1376.94,851.9 1376.98,863.1 1377.08,879.0 1377.24,898.4 1377.41,914.1 1377.57,927.8 1378.34,893.1 1379.10,853.2 1379.87,799.5 1380.33,754.2 1380.55,722.4 1380.64,692.5 1380.73,722.6 1380.95,754.6 1381.42,800.2 1382.19,856.7 1382.97,905.9 1383.74,948.8 1383.90,932.5 1384.05,913.8 1384.21,890.7 1384.30,871.8 1384.34,858.5 1384.36,845.9 1384.39,859.3 1384.44,873.4 1384.57,893.5 1384.77,918.0 1384.98,937.8 1385.18,955.1 1385.91,918.2 1386.63,875.9 1387.36,823.2 1387.79,779.4 1388.00,748.7 1388.08,719.7 1388.17,748.9 1388.38,779.9 1388.82,823.9 1389.55,883.0 1390.29,935.1 1391.02,980.6 1391.22,959.9 1391.41,936.3 1391.61,907.1 1391.73,883.1 1391.78,866.3 1391.81,850.5 1391.84,867.2 1391.91,884.9 1392.06,910.1 1392.31,940.8 1392.56,965.7 1392.81,987.4 1393.49,948.0 1394.17,903.0" fill="none" stroke="#23274f" stroke-width="2.0" stroke-linejoin="miter" stroke-miterlimit="8"/>
<polyline points="1394.17,903.0 1394.85,847.5 1395.26,805.5 1395.45,776.0 1395.53,748.1 1395.61,776.3 1395.80,806.1 1396.22,848.6 1396.91,908.4 1397.60,958.0 1398.29,1001.3 1398.53,978.4 1398.77,952.1 1399.01,919.6 1399.15,893.0 1399.22,874.3 1399.25,856.6 1399.29,874.9 1399.37,894.3 1399.54,922.0 1399.84,955.7 1400.13,982.9 1400.43,1006.7 1401.06,968.9 1401.70,925.5 1402.34,871.9 1402.72,830.2 1402.90,801.8 1402.97,775.0 1405.29,979.3 1406.69,856.3 1408.37,1101.7 1410.42,802.7 1412.52,1047.7 1414.14,859.7 1415.87,1046.2 1417.86,831.0 1419.86,1078.3 1421.58,865.5 1423.39,1139.1 1425.30,850.7 1427.25,1050.5 1429.03,868.1 1430.87,1038.5 1432.75,864.5 1434.65,1095.9 1436.47,874.3 1438.31,1059.6 1440.19,870.6 1442.09,1043.1 1443.92,876.5 1445.78,1053.4 1447.64,877.0 1449.52,1039.8 1451.36,879.8 1453.23,1063.0 1455.08,882.0 1456.95,1079.7 1458.80,883.2 1460.68,1080.5 1462.53,885.4 1464.39,1143.8 1466.25,885.8 1468.12,1081.2 1469.97,888.3 1471.82,1109.3 1473.69,884.7 1475.56,1064.7 1477.41,886.9 1479.29,1090.4 1481.14,890.0 1483.00,1047.4 1484.86,890.6 1486.72,1079.8 1488.58,891.4 1490.45,1048.7 1492.30,892.6 1494.17,1148.5 1496.03,895.1 1497.88,1123.7 1499.75,892.7 1501.61,1073.6 1503.47,893.6 1505.35,1115.1 1507.19,897.8 1509.06,1181.7 1510.91,901.4 1512.78,1070.9 1514.64,902.2 1516.45,1162.1 1518.36,889.5 1520.28,1109.4 1522.08,902.2 1523.90,1119.3 1525.80,892.2 1527.69,1165.0 1529.52,900.9 1531.39,1110.0 1533.25,902.8 1535.12,1127.9 1536.97,905.6 1538.83,1153.5 1540.69,904.6 1542.56,1193.7 1544.41,905.7 1546.29,1109.0 1548.14,909.6 1549.99,1176.3 1551.86,906.7 1553.73,1158.6 1555.58,908.4 1557.45,1150.3 1559.30,909.5 1561.17,1120.3 1563.02,911.5 1564.86,1111.0 1566.75,906.5 1568.65,1072.5 1570.47,914.6 1572.32,1085.7 1574.19,912.1 1576.06,1077.0 1577.91,913.3 1579.78,1169.5 1581.64,914.3 1583.52,1106.2 1585.36,919.1 1587.22,1096.4 1589.08,919.9 1590.93,1085.2 1592.80,918.4 1594.66,1187.5 1596.52,917.9 1598.39,1192.1 1600.25,919.5 1602.12,1167.4 1603.97,923.2 1605.81,1114.5 1607.69,919.7 1609.56,1108.2 1611.41,921.4 1613.29,1117.8 1615.13,925.1 1617.00,1142.3 1618.86,925.0 1620.70,1099.7 1622.58,922.1 1624.45,1139.1 1626.30,925.3 1628.16,1115.2 1630.02,924.0 1631.89,1211.5 1633.75,927.4 1635.59,1212.9 1637.47,923.9 1639.35,1155.3 1641.19,928.4 1643.03,1114.5 1644.91,924.7 1646.78,1212.9 1648.63,928.5 1650.43,1118.9 1652.36,915.6 1654.27,1124.9 1656.08,927.6 1657.93,1081.8 1659.80,926.4 1661.66,1133.4 1663.52,927.1 1665.40,1148.2 1667.24,930.7" fill="none" stroke="#23274f" stroke-width="2.2" stroke-linejoin="miter" stroke-miterlimit="8"/>
</g>
<text transform="translate(962.40,618.90) scale(1.000,1)" text-anchor="end" font-size="29.2">−10</text>
<text transform="translate(962.40,691.65) scale(1.000,1)" text-anchor="end" font-size="29.2">−20</text>
<text transform="translate(962.40,764.40) scale(1.000,1)" text-anchor="end" font-size="29.2">−30</text>
<text transform="translate(962.40,837.15) scale(1.000,1)" text-anchor="end" font-size="29.2">−40</text>
<text transform="translate(962.40,909.90) scale(1.000,1)" text-anchor="end" font-size="29.2">−50</text>
<text transform="translate(973.50,971.30) scale(1.000,1)" text-anchor="middle" font-size="29.2">1265</text>
<text transform="translate(1088.13,971.30) scale(1.000,1)" text-anchor="middle" font-size="29.2">1270</text>
<text transform="translate(1202.77,971.30) scale(1.000,1)" text-anchor="middle" font-size="29.2">1275</text>
<text transform="translate(1317.40,971.30) scale(1.000,1)" text-anchor="middle" font-size="29.2">1280</text>
<text transform="translate(1432.03,971.30) scale(1.000,1)" text-anchor="middle" font-size="29.2">1285</text>
<text transform="translate(1546.67,971.30) scale(1.000,1)" text-anchor="middle" font-size="29.2">1290</text>
<text transform="translate(1661.30,971.30) scale(1.000,1)" text-anchor="middle" font-size="29.2">1295</text>
<text transform="translate(1318.80,1013.00) scale(1.000,1)" text-anchor="middle" font-size="29.2">Wavelength (nm)</text>
<text transform="translate(888.20,753.40) rotate(-90) scale(1.000,1)" text-anchor="middle" font-size="29.2">Spectral power (dBm)</text>
<text transform="translate(864.30,570.60) scale(1.000,1)" text-anchor="start" font-size="43.0" font-weight="bold">e</text>
</svg></body></html>
